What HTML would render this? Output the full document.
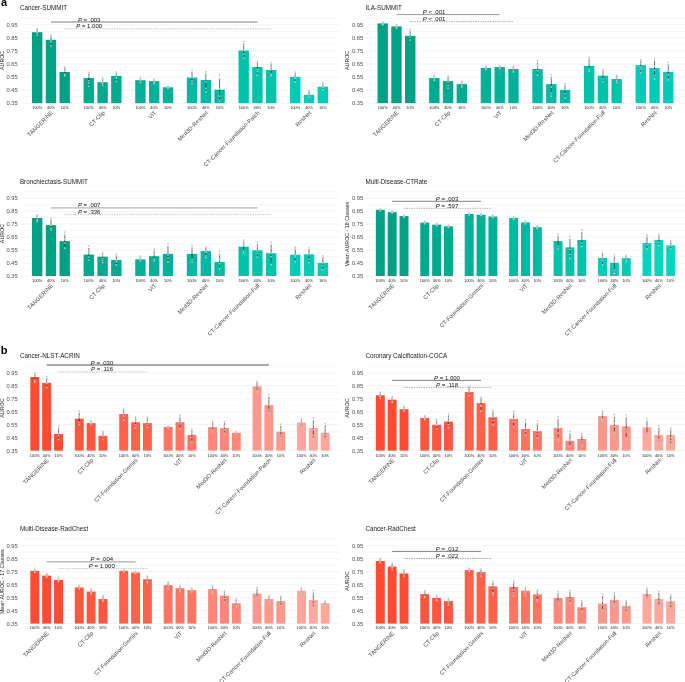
<!DOCTYPE html>
<html lang="en"><head><meta charset="utf-8"><title>Figure</title>
<style>
html,body{margin:0;padding:0;background:#fff;}
body{width:685px;height:682px;overflow:hidden;}
svg{display:block;will-change:transform;font-family:"Liberation Sans", Arial, Helvetica, sans-serif;}
.ti{font-size:6.3px;fill:#1a1a1a;}
.tk{font-size:5.75px;fill:#4d4d4d;text-anchor:end;}
.yl{font-size:5.33px;fill:#1a1a1a;text-anchor:middle;}
.pc{font-size:3.9px;fill:#1a1a1a;text-anchor:middle;}
.gl{font-size:5.85px;fill:#4d4d4d;text-anchor:end;}
.pv{font-size:6px;fill:#111;text-anchor:middle;}
.pn{font-size:11px;font-weight:bold;fill:#000;}
.gr line{stroke:#ebebeb;stroke-width:.55;}
.gm line{stroke:#f0f0f0;stroke-width:.45;}
.eb{stroke:#111;stroke-width:.6;}
.dt{fill:#c4c4c4;}
</style></head><body>
<svg width="685" height="682" viewBox="0 0 685 682">
<rect width="685" height="682" fill="#fff"/>
<text class="pn" x="1" y="6.2">a</text>
<text class="pn" x="0.8" y="353.7">b</text>

<g id="c0">
<text class="ti" x="19.9" y="10.2">Cancer-SUMMIT</text>
<g class="gm">
<line x1="20.0" x2="340.0" y1="96.54" y2="96.54"/>
<line x1="20.0" x2="340.0" y1="83.52" y2="83.52"/>
<line x1="20.0" x2="340.0" y1="70.51" y2="70.51"/>
<line x1="20.0" x2="340.0" y1="57.49" y2="57.49"/>
<line x1="20.0" x2="340.0" y1="44.47" y2="44.47"/>
<line x1="20.0" x2="340.0" y1="31.46" y2="31.46"/>
<line x1="20.0" x2="340.0" y1="18.44" y2="18.44"/>
</g><g class="gr">
<line x1="20.0" x2="340.0" y1="103.05" y2="103.05"/>
<line x1="20.0" x2="340.0" y1="90.03" y2="90.03"/>
<line x1="20.0" x2="340.0" y1="77.02" y2="77.02"/>
<line x1="20.0" x2="340.0" y1="64.00" y2="64.00"/>
<line x1="20.0" x2="340.0" y1="50.98" y2="50.98"/>
<line x1="20.0" x2="340.0" y1="37.97" y2="37.97"/>
<line x1="20.0" x2="340.0" y1="24.95" y2="24.95"/>
</g>
<text class="tk" x="17.6" y="105.1">0.35</text>
<text class="tk" x="17.6" y="92.1">0.45</text>
<text class="tk" x="17.6" y="79.1">0.55</text>
<text class="tk" x="17.6" y="66.0">0.65</text>
<text class="tk" x="17.6" y="53.0">0.75</text>
<text class="tk" x="17.6" y="40.0">0.85</text>
<text class="tk" x="17.6" y="27.0">0.95</text>
<text class="yl" transform="translate(3.9,60.4) rotate(-90)">AUROC</text>
<rect x="32.01" y="32.20" width="10.39" height="70.85" fill="#00a085"/>
<line class="eb" x1="37.20" x2="37.20" y1="29.47" y2="34.60"/>
<circle class="dt" cx="37.20" cy="28.70" r=".88"/>
<circle class="dt" cx="37.20" cy="29.83" r=".88"/>
<circle class="dt" cx="37.20" cy="32.17" r=".88"/>
<circle class="dt" cx="37.20" cy="32.96" r=".88"/>
<circle class="dt" cx="37.20" cy="35.20" r=".88"/>
<text class="pc" x="37.20" y="108.7">100%</text>
<rect x="45.77" y="39.80" width="10.39" height="63.25" fill="#00a085"/>
<line class="eb" x1="50.97" x2="50.97" y1="36.21" y2="44.60"/>
<circle class="dt" cx="50.97" cy="35.20" r=".88"/>
<circle class="dt" cx="50.97" cy="36.82" r=".88"/>
<circle class="dt" cx="50.97" cy="40.52" r=".88"/>
<circle class="dt" cx="50.97" cy="42.07" r=".88"/>
<circle class="dt" cx="50.97" cy="45.80" r=".88"/>
<text class="pc" x="50.97" y="108.7">40%</text>
<rect x="59.54" y="72.00" width="10.39" height="31.05" fill="#00a085"/>
<line class="eb" x1="64.73" x2="64.73" y1="68.10" y2="74.96"/>
<circle class="dt" cx="64.73" cy="67.00" r=".88"/>
<circle class="dt" cx="64.73" cy="68.39" r=".88"/>
<circle class="dt" cx="64.73" cy="71.21" r=".88"/>
<circle class="dt" cx="64.73" cy="74.15" r=".88"/>
<circle class="dt" cx="64.73" cy="75.70" r=".88"/>
<text class="pc" x="64.73" y="108.7">10%</text>
<text class="gl" transform="translate(53.6,113.1) rotate(-45)">TANGERINE</text>
<rect x="83.62" y="78.00" width="10.39" height="25.05" fill="#00aa8f"/>
<line class="eb" x1="88.82" x2="88.82" y1="73.71" y2="84.64"/>
<circle class="dt" cx="88.82" cy="72.50" r=".88"/>
<circle class="dt" cx="88.82" cy="76.34" r=".88"/>
<circle class="dt" cx="88.82" cy="80.76" r=".88"/>
<circle class="dt" cx="88.82" cy="83.08" r=".88"/>
<circle class="dt" cx="88.82" cy="86.30" r=".88"/>
<text class="pc" x="88.82" y="108.7">100%</text>
<rect x="97.38" y="82.20" width="10.39" height="20.85" fill="#00aa8f"/>
<line class="eb" x1="102.58" x2="102.58" y1="79.08" y2="84.60"/>
<circle class="dt" cx="102.58" cy="78.20" r=".88"/>
<circle class="dt" cx="102.58" cy="79.25" r=".88"/>
<circle class="dt" cx="102.58" cy="82.25" r=".88"/>
<circle class="dt" cx="102.58" cy="83.13" r=".88"/>
<circle class="dt" cx="102.58" cy="85.20" r=".88"/>
<text class="pc" x="102.58" y="108.7">40%</text>
<rect x="111.15" y="76.00" width="10.39" height="27.05" fill="#00aa8f"/>
<line class="eb" x1="116.34" x2="116.34" y1="72.72" y2="80.24"/>
<circle class="dt" cx="116.34" cy="71.80" r=".88"/>
<circle class="dt" cx="116.34" cy="73.77" r=".88"/>
<circle class="dt" cx="116.34" cy="77.21" r=".88"/>
<circle class="dt" cx="116.34" cy="78.26" r=".88"/>
<circle class="dt" cx="116.34" cy="81.30" r=".88"/>
<text class="pc" x="116.34" y="108.7">10%</text>
<text class="gl" transform="translate(105.2,113.1) rotate(-45)">CT-Clip</text>
<rect x="135.23" y="80.20" width="10.39" height="22.85" fill="#00b198"/>
<line class="eb" x1="140.43" x2="140.43" y1="78.02" y2="82.20"/>
<circle class="dt" cx="140.43" cy="77.40" r=".88"/>
<circle class="dt" cx="140.43" cy="78.58" r=".88"/>
<circle class="dt" cx="140.43" cy="80.11" r=".88"/>
<circle class="dt" cx="140.43" cy="80.87" r=".88"/>
<circle class="dt" cx="140.43" cy="82.70" r=".88"/>
<text class="pc" x="140.43" y="108.7">100%</text>
<rect x="149.00" y="81.10" width="10.39" height="21.95" fill="#00b198"/>
<line class="eb" x1="154.19" x2="154.19" y1="79.54" y2="83.10"/>
<circle class="dt" cx="154.19" cy="79.10" r=".88"/>
<circle class="dt" cx="154.19" cy="80.40" r=".88"/>
<circle class="dt" cx="154.19" cy="81.28" r=".88"/>
<circle class="dt" cx="154.19" cy="82.29" r=".88"/>
<circle class="dt" cx="154.19" cy="83.60" r=".88"/>
<text class="pc" x="154.19" y="108.7">40%</text>
<rect x="162.76" y="87.30" width="10.39" height="15.75" fill="#00b198"/>
<line class="eb" x1="167.96" x2="167.96" y1="86.52" y2="87.86"/>
<circle class="dt" cx="167.96" cy="86.30" r=".88"/>
<circle class="dt" cx="167.96" cy="86.65" r=".88"/>
<circle class="dt" cx="167.96" cy="87.26" r=".88"/>
<circle class="dt" cx="167.96" cy="87.65" r=".88"/>
<circle class="dt" cx="167.96" cy="88.00" r=".88"/>
<text class="pc" x="167.96" y="108.7">10%</text>
<text class="gl" transform="translate(156.8,113.1) rotate(-45)">ViT</text>
<rect x="186.85" y="77.60" width="10.39" height="25.45" fill="#00b9a2"/>
<line class="eb" x1="192.04" x2="192.04" y1="71.75" y2="82.40"/>
<circle class="dt" cx="192.04" cy="70.10" r=".88"/>
<circle class="dt" cx="192.04" cy="73.55" r=".88"/>
<circle class="dt" cx="192.04" cy="77.96" r=".88"/>
<circle class="dt" cx="192.04" cy="80.91" r=".88"/>
<circle class="dt" cx="192.04" cy="83.60" r=".88"/>
<text class="pc" x="192.04" y="108.7">100%</text>
<rect x="200.61" y="80.00" width="10.39" height="23.05" fill="#00b9a2"/>
<line class="eb" x1="205.81" x2="205.81" y1="73.53" y2="89.84"/>
<circle class="dt" cx="205.81" cy="71.70" r=".88"/>
<circle class="dt" cx="205.81" cy="75.12" r=".88"/>
<circle class="dt" cx="205.81" cy="81.63" r=".88"/>
<circle class="dt" cx="205.81" cy="88.32" r=".88"/>
<circle class="dt" cx="205.81" cy="92.30" r=".88"/>
<text class="pc" x="205.81" y="108.7">40%</text>
<rect x="214.37" y="89.70" width="10.39" height="13.35" fill="#00b9a2"/>
<line class="eb" x1="219.57" x2="219.57" y1="78.00" y2="98.82"/>
<circle class="dt" cx="219.57" cy="74.70" r=".88"/>
<circle class="dt" cx="219.57" cy="78.62" r=".88"/>
<circle class="dt" cx="219.57" cy="88.88" r=".88"/>
<circle class="dt" cx="219.57" cy="96.04" r=".88"/>
<circle class="dt" cx="219.57" cy="101.10" r=".88"/>
<text class="pc" x="219.57" y="108.7">10%</text>
<text class="gl" transform="translate(208.4,113.1) rotate(-45)">Med3D-ResNet</text>
<rect x="238.46" y="50.50" width="10.39" height="52.55" fill="#00c3aa"/>
<line class="eb" x1="243.66" x2="243.66" y1="43.32" y2="56.58"/>
<circle class="dt" cx="243.66" cy="41.30" r=".88"/>
<circle class="dt" cx="243.66" cy="44.81" r=".88"/>
<circle class="dt" cx="243.66" cy="50.42" r=".88"/>
<circle class="dt" cx="243.66" cy="54.25" r=".88"/>
<circle class="dt" cx="243.66" cy="58.10" r=".88"/>
<text class="pc" x="243.66" y="108.7">100%</text>
<rect x="252.22" y="67.00" width="10.39" height="36.05" fill="#00c3aa"/>
<line class="eb" x1="257.42" x2="257.42" y1="62.48" y2="73.64"/>
<circle class="dt" cx="257.42" cy="61.20" r=".88"/>
<circle class="dt" cx="257.42" cy="65.78" r=".88"/>
<circle class="dt" cx="257.42" cy="69.63" r=".88"/>
<circle class="dt" cx="257.42" cy="71.69" r=".88"/>
<circle class="dt" cx="257.42" cy="75.30" r=".88"/>
<text class="pc" x="257.42" y="108.7">40%</text>
<rect x="265.99" y="70.00" width="10.39" height="33.05" fill="#00c3aa"/>
<line class="eb" x1="271.18" x2="271.18" y1="64.38" y2="74.80"/>
<circle class="dt" cx="271.18" cy="62.80" r=".88"/>
<circle class="dt" cx="271.18" cy="66.69" r=".88"/>
<circle class="dt" cx="271.18" cy="69.83" r=".88"/>
<circle class="dt" cx="271.18" cy="74.13" r=".88"/>
<circle class="dt" cx="271.18" cy="76.00" r=".88"/>
<text class="pc" x="271.18" y="108.7">10%</text>
<text class="gl" transform="translate(260.0,113.1) rotate(-45)">CT-Cancer-Foundation-Patch</text>
<rect x="290.07" y="76.90" width="10.39" height="26.15" fill="#00cbb7"/>
<line class="eb" x1="295.27" x2="295.27" y1="73.16" y2="80.90"/>
<circle class="dt" cx="295.27" cy="72.10" r=".88"/>
<circle class="dt" cx="295.27" cy="74.30" r=".88"/>
<circle class="dt" cx="295.27" cy="77.36" r=".88"/>
<circle class="dt" cx="295.27" cy="78.42" r=".88"/>
<circle class="dt" cx="295.27" cy="81.90" r=".88"/>
<text class="pc" x="295.27" y="108.7">100%</text>
<rect x="303.84" y="94.80" width="10.39" height="8.25" fill="#00cbb7"/>
<line class="eb" x1="309.03" x2="309.03" y1="91.52" y2="96.64"/>
<circle class="dt" cx="309.03" cy="90.60" r=".88"/>
<circle class="dt" cx="309.03" cy="91.68" r=".88"/>
<circle class="dt" cx="309.03" cy="93.22" r=".88"/>
<circle class="dt" cx="309.03" cy="95.86" r=".88"/>
<circle class="dt" cx="309.03" cy="97.10" r=".88"/>
<text class="pc" x="309.03" y="108.7">40%</text>
<rect x="317.60" y="86.70" width="10.39" height="16.35" fill="#00cbb7"/>
<line class="eb" x1="322.80" x2="322.80" y1="83.58" y2="89.10"/>
<circle class="dt" cx="322.80" cy="82.70" r=".88"/>
<circle class="dt" cx="322.80" cy="84.28" r=".88"/>
<circle class="dt" cx="322.80" cy="86.77" r=".88"/>
<circle class="dt" cx="322.80" cy="87.30" r=".88"/>
<circle class="dt" cx="322.80" cy="89.70" r=".88"/>
<text class="pc" x="322.80" y="108.7">10%</text>
<text class="gl" transform="translate(311.6,113.1) rotate(-45)">ResNet</text>
<line x1="51.0" x2="257.4" y1="22.0" y2="22.0" stroke="#ababab" stroke-width="1.3"/>
<text class="pv" x="89.2" y="21.65"><tspan font-style="italic">P</tspan> = .003</text>
<line x1="64.7" x2="271.2" y1="28.8" y2="28.8" stroke="#858585" stroke-width=".8" stroke-dasharray=".6 1.1"/>
<text class="pv" x="89.2" y="28.35"><tspan font-style="italic">P</tspan> = 1.000</text>
</g>
<g id="c1">
<text class="ti" x="365.4" y="10.2">ILA-SUMMIT</text>
<g class="gm">
<line x1="365.5" x2="685.0" y1="96.54" y2="96.54"/>
<line x1="365.5" x2="685.0" y1="83.52" y2="83.52"/>
<line x1="365.5" x2="685.0" y1="70.51" y2="70.51"/>
<line x1="365.5" x2="685.0" y1="57.49" y2="57.49"/>
<line x1="365.5" x2="685.0" y1="44.47" y2="44.47"/>
<line x1="365.5" x2="685.0" y1="31.46" y2="31.46"/>
<line x1="365.5" x2="685.0" y1="18.44" y2="18.44"/>
</g><g class="gr">
<line x1="365.5" x2="685.0" y1="103.05" y2="103.05"/>
<line x1="365.5" x2="685.0" y1="90.03" y2="90.03"/>
<line x1="365.5" x2="685.0" y1="77.02" y2="77.02"/>
<line x1="365.5" x2="685.0" y1="64.00" y2="64.00"/>
<line x1="365.5" x2="685.0" y1="50.98" y2="50.98"/>
<line x1="365.5" x2="685.0" y1="37.97" y2="37.97"/>
<line x1="365.5" x2="685.0" y1="24.95" y2="24.95"/>
</g>
<text class="tk" x="363.1" y="105.1">0.35</text>
<text class="tk" x="363.1" y="92.1">0.45</text>
<text class="tk" x="363.1" y="79.1">0.55</text>
<text class="tk" x="363.1" y="66.0">0.65</text>
<text class="tk" x="363.1" y="53.0">0.75</text>
<text class="tk" x="363.1" y="40.0">0.85</text>
<text class="tk" x="363.1" y="27.0">0.95</text>
<text class="yl" transform="translate(349.1,60.4) rotate(-90)">AUROC</text>
<rect x="377.51" y="23.40" width="10.39" height="79.65" fill="#00a085"/>
<line class="eb" x1="382.70" x2="382.70" y1="22.23" y2="24.60"/>
<circle class="dt" cx="382.70" cy="21.90" r=".88"/>
<circle class="dt" cx="382.70" cy="22.90" r=".88"/>
<circle class="dt" cx="382.70" cy="23.61" r=".88"/>
<circle class="dt" cx="382.70" cy="24.39" r=".88"/>
<circle class="dt" cx="382.70" cy="24.90" r=".88"/>
<text class="pc" x="382.70" y="108.7">100%</text>
<rect x="391.27" y="26.40" width="10.39" height="76.65" fill="#00a085"/>
<line class="eb" x1="396.47" x2="396.47" y1="25.00" y2="27.60"/>
<circle class="dt" cx="396.47" cy="24.60" r=".88"/>
<circle class="dt" cx="396.47" cy="25.32" r=".88"/>
<circle class="dt" cx="396.47" cy="26.53" r=".88"/>
<circle class="dt" cx="396.47" cy="27.41" r=".88"/>
<circle class="dt" cx="396.47" cy="27.90" r=".88"/>
<text class="pc" x="396.47" y="108.7">40%</text>
<rect x="405.04" y="35.90" width="10.39" height="67.15" fill="#00a085"/>
<line class="eb" x1="410.23" x2="410.23" y1="30.83" y2="39.10"/>
<circle class="dt" cx="410.23" cy="29.40" r=".88"/>
<circle class="dt" cx="410.23" cy="31.41" r=".88"/>
<circle class="dt" cx="410.23" cy="34.03" r=".88"/>
<circle class="dt" cx="410.23" cy="37.24" r=".88"/>
<circle class="dt" cx="410.23" cy="39.90" r=".88"/>
<text class="pc" x="410.23" y="108.7">10%</text>
<text class="gl" transform="translate(399.1,113.1) rotate(-45)">TANGERINE</text>
<rect x="429.12" y="78.00" width="10.39" height="25.05" fill="#00aa8f"/>
<line class="eb" x1="434.32" x2="434.32" y1="76.05" y2="80.00"/>
<circle class="dt" cx="434.32" cy="75.50" r=".88"/>
<circle class="dt" cx="434.32" cy="76.20" r=".88"/>
<circle class="dt" cx="434.32" cy="77.91" r=".88"/>
<circle class="dt" cx="434.32" cy="79.11" r=".88"/>
<circle class="dt" cx="434.32" cy="80.50" r=".88"/>
<text class="pc" x="434.32" y="108.7">100%</text>
<rect x="442.88" y="81.10" width="10.39" height="21.95" fill="#00aa8f"/>
<line class="eb" x1="448.08" x2="448.08" y1="77.20" y2="86.70"/>
<circle class="dt" cx="448.08" cy="76.10" r=".88"/>
<circle class="dt" cx="448.08" cy="79.60" r=".88"/>
<circle class="dt" cx="448.08" cy="82.14" r=".88"/>
<circle class="dt" cx="448.08" cy="85.41" r=".88"/>
<circle class="dt" cx="448.08" cy="88.10" r=".88"/>
<text class="pc" x="448.08" y="108.7">40%</text>
<rect x="456.65" y="84.10" width="10.39" height="18.95" fill="#00aa8f"/>
<line class="eb" x1="461.84" x2="461.84" y1="81.76" y2="86.50"/>
<circle class="dt" cx="461.84" cy="81.10" r=".88"/>
<circle class="dt" cx="461.84" cy="83.13" r=".88"/>
<circle class="dt" cx="461.84" cy="84.47" r=".88"/>
<circle class="dt" cx="461.84" cy="86.09" r=".88"/>
<circle class="dt" cx="461.84" cy="87.10" r=".88"/>
<text class="pc" x="461.84" y="108.7">10%</text>
<text class="gl" transform="translate(450.7,113.1) rotate(-45)">CT-Clip</text>
<rect x="480.73" y="67.90" width="10.39" height="35.15" fill="#00b198"/>
<line class="eb" x1="485.93" x2="485.93" y1="66.73" y2="69.10"/>
<circle class="dt" cx="485.93" cy="66.40" r=".88"/>
<circle class="dt" cx="485.93" cy="67.08" r=".88"/>
<circle class="dt" cx="485.93" cy="67.64" r=".88"/>
<circle class="dt" cx="485.93" cy="68.74" r=".88"/>
<circle class="dt" cx="485.93" cy="69.40" r=".88"/>
<text class="pc" x="485.93" y="108.7">100%</text>
<rect x="494.50" y="67.00" width="10.39" height="36.05" fill="#00b198"/>
<line class="eb" x1="499.69" x2="499.69" y1="65.83" y2="68.20"/>
<circle class="dt" cx="499.69" cy="65.50" r=".88"/>
<circle class="dt" cx="499.69" cy="66.06" r=".88"/>
<circle class="dt" cx="499.69" cy="66.78" r=".88"/>
<circle class="dt" cx="499.69" cy="67.64" r=".88"/>
<circle class="dt" cx="499.69" cy="68.50" r=".88"/>
<text class="pc" x="499.69" y="108.7">40%</text>
<rect x="508.26" y="69.00" width="10.39" height="34.05" fill="#00b198"/>
<line class="eb" x1="513.46" x2="513.46" y1="66.66" y2="71.40"/>
<circle class="dt" cx="513.46" cy="66.00" r=".88"/>
<circle class="dt" cx="513.46" cy="67.04" r=".88"/>
<circle class="dt" cx="513.46" cy="68.47" r=".88"/>
<circle class="dt" cx="513.46" cy="70.32" r=".88"/>
<circle class="dt" cx="513.46" cy="72.00" r=".88"/>
<text class="pc" x="513.46" y="108.7">10%</text>
<text class="gl" transform="translate(502.3,113.1) rotate(-45)">ViT</text>
<rect x="532.35" y="69.00" width="10.39" height="34.05" fill="#00b9a2"/>
<line class="eb" x1="537.54" x2="537.54" y1="62.76" y2="73.80"/>
<circle class="dt" cx="537.54" cy="61.00" r=".88"/>
<circle class="dt" cx="537.54" cy="64.85" r=".88"/>
<circle class="dt" cx="537.54" cy="66.92" r=".88"/>
<circle class="dt" cx="537.54" cy="70.74" r=".88"/>
<circle class="dt" cx="537.54" cy="75.00" r=".88"/>
<text class="pc" x="537.54" y="108.7">100%</text>
<rect x="546.11" y="84.10" width="10.39" height="18.95" fill="#00b9a2"/>
<line class="eb" x1="551.31" x2="551.31" y1="76.69" y2="93.70"/>
<circle class="dt" cx="551.31" cy="74.60" r=".88"/>
<circle class="dt" cx="551.31" cy="78.19" r=".88"/>
<circle class="dt" cx="551.31" cy="87.00" r=".88"/>
<circle class="dt" cx="551.31" cy="93.06" r=".88"/>
<circle class="dt" cx="551.31" cy="96.10" r=".88"/>
<text class="pc" x="551.31" y="108.7">40%</text>
<rect x="559.87" y="89.90" width="10.39" height="13.15" fill="#00b9a2"/>
<line class="eb" x1="565.07" x2="565.07" y1="85.22" y2="96.30"/>
<circle class="dt" cx="565.07" cy="83.90" r=".88"/>
<circle class="dt" cx="565.07" cy="86.12" r=".88"/>
<circle class="dt" cx="565.07" cy="89.67" r=".88"/>
<circle class="dt" cx="565.07" cy="93.92" r=".88"/>
<circle class="dt" cx="565.07" cy="97.90" r=".88"/>
<text class="pc" x="565.07" y="108.7">10%</text>
<text class="gl" transform="translate(553.9,113.1) rotate(-45)">Med3D-ResNet</text>
<rect x="583.96" y="66.00" width="10.39" height="37.05" fill="#00c3aa"/>
<line class="eb" x1="589.16" x2="589.16" y1="59.37" y2="70.00"/>
<circle class="dt" cx="589.16" cy="57.50" r=".88"/>
<circle class="dt" cx="589.16" cy="59.87" r=".88"/>
<circle class="dt" cx="589.16" cy="62.83" r=".88"/>
<circle class="dt" cx="589.16" cy="68.96" r=".88"/>
<circle class="dt" cx="589.16" cy="71.00" r=".88"/>
<text class="pc" x="589.16" y="108.7">100%</text>
<rect x="597.72" y="75.70" width="10.39" height="27.35" fill="#00c3aa"/>
<line class="eb" x1="602.92" x2="602.92" y1="71.02" y2="80.50"/>
<circle class="dt" cx="602.92" cy="69.70" r=".88"/>
<circle class="dt" cx="602.92" cy="72.81" r=".88"/>
<circle class="dt" cx="602.92" cy="74.45" r=".88"/>
<circle class="dt" cx="602.92" cy="78.77" r=".88"/>
<circle class="dt" cx="602.92" cy="81.70" r=".88"/>
<text class="pc" x="602.92" y="108.7">40%</text>
<rect x="611.49" y="79.00" width="10.39" height="24.05" fill="#00c3aa"/>
<line class="eb" x1="616.68" x2="616.68" y1="76.27" y2="81.80"/>
<circle class="dt" cx="616.68" cy="75.50" r=".88"/>
<circle class="dt" cx="616.68" cy="77.55" r=".88"/>
<circle class="dt" cx="616.68" cy="78.63" r=".88"/>
<circle class="dt" cx="616.68" cy="80.54" r=".88"/>
<circle class="dt" cx="616.68" cy="82.50" r=".88"/>
<text class="pc" x="616.68" y="108.7">10%</text>
<text class="gl" transform="translate(605.5,113.1) rotate(-45)">CT-Cancer-Foundation-Full</text>
<rect x="635.57" y="65.10" width="10.39" height="37.95" fill="#00cbb7"/>
<line class="eb" x1="640.77" x2="640.77" y1="60.81" y2="71.50"/>
<circle class="dt" cx="640.77" cy="59.60" r=".88"/>
<circle class="dt" cx="640.77" cy="63.07" r=".88"/>
<circle class="dt" cx="640.77" cy="67.18" r=".88"/>
<circle class="dt" cx="640.77" cy="69.22" r=".88"/>
<circle class="dt" cx="640.77" cy="73.10" r=".88"/>
<text class="pc" x="640.77" y="108.7">100%</text>
<rect x="649.34" y="68.10" width="10.39" height="34.95" fill="#00cbb7"/>
<line class="eb" x1="654.53" x2="654.53" y1="60.69" y2="76.90"/>
<circle class="dt" cx="654.53" cy="58.60" r=".88"/>
<circle class="dt" cx="654.53" cy="65.91" r=".88"/>
<circle class="dt" cx="654.53" cy="70.44" r=".88"/>
<circle class="dt" cx="654.53" cy="75.36" r=".88"/>
<circle class="dt" cx="654.53" cy="79.10" r=".88"/>
<text class="pc" x="654.53" y="108.7">40%</text>
<rect x="663.10" y="71.80" width="10.39" height="31.25" fill="#00cbb7"/>
<line class="eb" x1="668.30" x2="668.30" y1="64.39" y2="78.20"/>
<circle class="dt" cx="668.30" cy="62.30" r=".88"/>
<circle class="dt" cx="668.30" cy="65.62" r=".88"/>
<circle class="dt" cx="668.30" cy="71.12" r=".88"/>
<circle class="dt" cx="668.30" cy="74.87" r=".88"/>
<circle class="dt" cx="668.30" cy="79.80" r=".88"/>
<text class="pc" x="668.30" y="108.7">10%</text>
<text class="gl" transform="translate(657.1,113.1) rotate(-45)">ResNet</text>
<line x1="396.5" x2="499.7" y1="14.6" y2="14.6" stroke="#8f8f8f" stroke-width="0.9"/>
<text class="pv" x="434.1" y="14.25"><tspan font-style="italic">P</tspan> &lt; .001</text>
<line x1="410.2" x2="513.5" y1="21.6" y2="21.6" stroke="#555" stroke-width=".8" stroke-dasharray=".6 1.1"/>
<text class="pv" x="434.1" y="21.15"><tspan font-style="italic">P</tspan> &lt; .001</text>
</g>
<g id="c2">
<text class="ti" x="19.9" y="183.7">Bronchiectasis-SUMMIT</text>
<g class="gm">
<line x1="20.0" x2="340.0" y1="269.52" y2="269.52"/>
<line x1="20.0" x2="340.0" y1="256.55" y2="256.55"/>
<line x1="20.0" x2="340.0" y1="243.58" y2="243.58"/>
<line x1="20.0" x2="340.0" y1="230.62" y2="230.62"/>
<line x1="20.0" x2="340.0" y1="217.65" y2="217.65"/>
<line x1="20.0" x2="340.0" y1="204.68" y2="204.68"/>
<line x1="20.0" x2="340.0" y1="191.72" y2="191.72"/>
</g><g class="gr">
<line x1="20.0" x2="340.0" y1="276.00" y2="276.00"/>
<line x1="20.0" x2="340.0" y1="263.03" y2="263.03"/>
<line x1="20.0" x2="340.0" y1="250.07" y2="250.07"/>
<line x1="20.0" x2="340.0" y1="237.10" y2="237.10"/>
<line x1="20.0" x2="340.0" y1="224.13" y2="224.13"/>
<line x1="20.0" x2="340.0" y1="211.17" y2="211.17"/>
<line x1="20.0" x2="340.0" y1="198.20" y2="198.20"/>
</g>
<text class="tk" x="17.6" y="278.1">0.35</text>
<text class="tk" x="17.6" y="265.1">0.45</text>
<text class="tk" x="17.6" y="252.1">0.55</text>
<text class="tk" x="17.6" y="239.2">0.65</text>
<text class="tk" x="17.6" y="226.2">0.75</text>
<text class="tk" x="17.6" y="213.2">0.85</text>
<text class="tk" x="17.6" y="200.2">0.95</text>
<text class="yl" transform="translate(3.9,233.5) rotate(-90)">AUROC</text>
<rect x="32.01" y="218.00" width="10.39" height="58.00" fill="#00a085"/>
<line class="eb" x1="37.20" x2="37.20" y1="215.66" y2="220.80"/>
<circle class="dt" cx="37.20" cy="215.00" r=".88"/>
<circle class="dt" cx="37.20" cy="216.31" r=".88"/>
<circle class="dt" cx="37.20" cy="217.91" r=".88"/>
<circle class="dt" cx="37.20" cy="220.15" r=".88"/>
<circle class="dt" cx="37.20" cy="221.50" r=".88"/>
<text class="pc" x="37.20" y="281.8">100%</text>
<rect x="45.77" y="225.10" width="10.39" height="50.90" fill="#00a085"/>
<line class="eb" x1="50.97" x2="50.97" y1="219.64" y2="229.10"/>
<circle class="dt" cx="50.97" cy="218.10" r=".88"/>
<circle class="dt" cx="50.97" cy="222.25" r=".88"/>
<circle class="dt" cx="50.97" cy="225.39" r=".88"/>
<circle class="dt" cx="50.97" cy="228.30" r=".88"/>
<circle class="dt" cx="50.97" cy="230.10" r=".88"/>
<text class="pc" x="50.97" y="281.8">40%</text>
<rect x="59.54" y="241.10" width="10.39" height="34.90" fill="#00a085"/>
<line class="eb" x1="64.73" x2="64.73" y1="234.08" y2="246.70"/>
<circle class="dt" cx="64.73" cy="232.10" r=".88"/>
<circle class="dt" cx="64.73" cy="235.14" r=".88"/>
<circle class="dt" cx="64.73" cy="239.03" r=".88"/>
<circle class="dt" cx="64.73" cy="243.06" r=".88"/>
<circle class="dt" cx="64.73" cy="248.10" r=".88"/>
<text class="pc" x="64.73" y="281.8">10%</text>
<text class="gl" transform="translate(53.6,286.1) rotate(-45)">TANGERINE</text>
<rect x="83.62" y="254.60" width="10.39" height="21.40" fill="#00aa8f"/>
<line class="eb" x1="88.82" x2="88.82" y1="247.97" y2="259.00"/>
<circle class="dt" cx="88.82" cy="246.10" r=".88"/>
<circle class="dt" cx="88.82" cy="250.65" r=".88"/>
<circle class="dt" cx="88.82" cy="253.04" r=".88"/>
<circle class="dt" cx="88.82" cy="257.07" r=".88"/>
<circle class="dt" cx="88.82" cy="260.10" r=".88"/>
<text class="pc" x="88.82" y="281.8">100%</text>
<rect x="97.38" y="256.70" width="10.39" height="19.30" fill="#00aa8f"/>
<line class="eb" x1="102.58" x2="102.58" y1="253.58" y2="261.50"/>
<circle class="dt" cx="102.58" cy="252.70" r=".88"/>
<circle class="dt" cx="102.58" cy="255.55" r=".88"/>
<circle class="dt" cx="102.58" cy="258.60" r=".88"/>
<circle class="dt" cx="102.58" cy="260.82" r=".88"/>
<circle class="dt" cx="102.58" cy="262.70" r=".88"/>
<text class="pc" x="102.58" y="281.8">40%</text>
<rect x="111.15" y="259.90" width="10.39" height="16.10" fill="#00aa8f"/>
<line class="eb" x1="116.34" x2="116.34" y1="255.22" y2="263.90"/>
<circle class="dt" cx="116.34" cy="253.90" r=".88"/>
<circle class="dt" cx="116.34" cy="255.87" r=".88"/>
<circle class="dt" cx="116.34" cy="260.10" r=".88"/>
<circle class="dt" cx="116.34" cy="261.74" r=".88"/>
<circle class="dt" cx="116.34" cy="264.90" r=".88"/>
<text class="pc" x="116.34" y="281.8">10%</text>
<text class="gl" transform="translate(105.2,286.1) rotate(-45)">CT-Clip</text>
<rect x="135.23" y="259.40" width="10.39" height="16.60" fill="#00b198"/>
<line class="eb" x1="140.43" x2="140.43" y1="256.67" y2="260.60"/>
<circle class="dt" cx="140.43" cy="255.90" r=".88"/>
<circle class="dt" cx="140.43" cy="257.04" r=".88"/>
<circle class="dt" cx="140.43" cy="258.29" r=".88"/>
<circle class="dt" cx="140.43" cy="260.14" r=".88"/>
<circle class="dt" cx="140.43" cy="260.90" r=".88"/>
<text class="pc" x="140.43" y="281.8">100%</text>
<rect x="149.00" y="256.20" width="10.39" height="19.80" fill="#00b198"/>
<line class="eb" x1="154.19" x2="154.19" y1="250.74" y2="259.80"/>
<circle class="dt" cx="154.19" cy="249.20" r=".88"/>
<circle class="dt" cx="154.19" cy="251.13" r=".88"/>
<circle class="dt" cx="154.19" cy="254.07" r=".88"/>
<circle class="dt" cx="154.19" cy="258.85" r=".88"/>
<circle class="dt" cx="154.19" cy="260.70" r=".88"/>
<text class="pc" x="154.19" y="281.8">40%</text>
<rect x="162.76" y="253.90" width="10.39" height="22.10" fill="#00b198"/>
<line class="eb" x1="167.96" x2="167.96" y1="246.10" y2="260.30"/>
<circle class="dt" cx="167.96" cy="243.90" r=".88"/>
<circle class="dt" cx="167.96" cy="249.69" r=".88"/>
<circle class="dt" cx="167.96" cy="254.80" r=".88"/>
<circle class="dt" cx="167.96" cy="258.02" r=".88"/>
<circle class="dt" cx="167.96" cy="261.90" r=".88"/>
<text class="pc" x="167.96" y="281.8">10%</text>
<text class="gl" transform="translate(156.8,286.1) rotate(-45)">ViT</text>
<rect x="186.85" y="253.90" width="10.39" height="22.10" fill="#00b9a2"/>
<line class="eb" x1="192.04" x2="192.04" y1="247.66" y2="260.30"/>
<circle class="dt" cx="192.04" cy="245.90" r=".88"/>
<circle class="dt" cx="192.04" cy="248.60" r=".88"/>
<circle class="dt" cx="192.04" cy="252.19" r=".88"/>
<circle class="dt" cx="192.04" cy="259.56" r=".88"/>
<circle class="dt" cx="192.04" cy="261.90" r=".88"/>
<text class="pc" x="192.04" y="281.8">100%</text>
<rect x="200.61" y="251.10" width="10.39" height="24.90" fill="#00b9a2"/>
<line class="eb" x1="205.81" x2="205.81" y1="247.98" y2="256.30"/>
<circle class="dt" cx="205.81" cy="247.10" r=".88"/>
<circle class="dt" cx="205.81" cy="250.73" r=".88"/>
<circle class="dt" cx="205.81" cy="252.20" r=".88"/>
<circle class="dt" cx="205.81" cy="255.83" r=".88"/>
<circle class="dt" cx="205.81" cy="257.60" r=".88"/>
<text class="pc" x="205.81" y="281.8">40%</text>
<rect x="214.37" y="262.00" width="10.39" height="14.00" fill="#00b9a2"/>
<line class="eb" x1="219.57" x2="219.57" y1="253.81" y2="267.60"/>
<circle class="dt" cx="219.57" cy="251.50" r=".88"/>
<circle class="dt" cx="219.57" cy="254.92" r=".88"/>
<circle class="dt" cx="219.57" cy="259.45" r=".88"/>
<circle class="dt" cx="219.57" cy="263.63" r=".88"/>
<circle class="dt" cx="219.57" cy="269.00" r=".88"/>
<text class="pc" x="219.57" y="281.8">10%</text>
<text class="gl" transform="translate(208.4,286.1) rotate(-45)">Med3D-ResNet</text>
<rect x="238.46" y="246.70" width="10.39" height="29.30" fill="#00c3aa"/>
<line class="eb" x1="243.66" x2="243.66" y1="241.63" y2="251.90"/>
<circle class="dt" cx="243.66" cy="240.20" r=".88"/>
<circle class="dt" cx="243.66" cy="243.22" r=".88"/>
<circle class="dt" cx="243.66" cy="245.64" r=".88"/>
<circle class="dt" cx="243.66" cy="251.12" r=".88"/>
<circle class="dt" cx="243.66" cy="253.20" r=".88"/>
<text class="pc" x="243.66" y="281.8">100%</text>
<rect x="252.22" y="250.30" width="10.39" height="25.70" fill="#00c3aa"/>
<line class="eb" x1="257.42" x2="257.42" y1="244.06" y2="255.90"/>
<circle class="dt" cx="257.42" cy="242.30" r=".88"/>
<circle class="dt" cx="257.42" cy="246.33" r=".88"/>
<circle class="dt" cx="257.42" cy="251.13" r=".88"/>
<circle class="dt" cx="257.42" cy="253.29" r=".88"/>
<circle class="dt" cx="257.42" cy="257.30" r=".88"/>
<text class="pc" x="257.42" y="281.8">40%</text>
<rect x="265.99" y="253.20" width="10.39" height="22.80" fill="#00c3aa"/>
<line class="eb" x1="271.18" x2="271.18" y1="244.62" y2="262.40"/>
<circle class="dt" cx="271.18" cy="242.20" r=".88"/>
<circle class="dt" cx="271.18" cy="247.98" r=".88"/>
<circle class="dt" cx="271.18" cy="253.57" r=".88"/>
<circle class="dt" cx="271.18" cy="256.69" r=".88"/>
<circle class="dt" cx="271.18" cy="264.70" r=".88"/>
<text class="pc" x="271.18" y="281.8">10%</text>
<text class="gl" transform="translate(260.0,286.1) rotate(-45)">CT-Cancer-Foundation-Full</text>
<rect x="290.07" y="254.70" width="10.39" height="21.30" fill="#00cbb7"/>
<line class="eb" x1="295.27" x2="295.27" y1="248.85" y2="260.30"/>
<circle class="dt" cx="295.27" cy="247.20" r=".88"/>
<circle class="dt" cx="295.27" cy="249.24" r=".88"/>
<circle class="dt" cx="295.27" cy="255.40" r=".88"/>
<circle class="dt" cx="295.27" cy="257.03" r=".88"/>
<circle class="dt" cx="295.27" cy="261.70" r=".88"/>
<text class="pc" x="295.27" y="281.8">100%</text>
<rect x="303.84" y="254.30" width="10.39" height="21.70" fill="#00cbb7"/>
<line class="eb" x1="309.03" x2="309.03" y1="249.23" y2="261.10"/>
<circle class="dt" cx="309.03" cy="247.80" r=".88"/>
<circle class="dt" cx="309.03" cy="251.74" r=".88"/>
<circle class="dt" cx="309.03" cy="254.73" r=".88"/>
<circle class="dt" cx="309.03" cy="259.11" r=".88"/>
<circle class="dt" cx="309.03" cy="262.80" r=".88"/>
<text class="pc" x="309.03" y="281.8">40%</text>
<rect x="317.60" y="262.90" width="10.39" height="13.10" fill="#00cbb7"/>
<line class="eb" x1="322.80" x2="322.80" y1="257.44" y2="268.50"/>
<circle class="dt" cx="322.80" cy="255.90" r=".88"/>
<circle class="dt" cx="322.80" cy="258.19" r=".88"/>
<circle class="dt" cx="322.80" cy="263.09" r=".88"/>
<circle class="dt" cx="322.80" cy="265.63" r=".88"/>
<circle class="dt" cx="322.80" cy="269.90" r=".88"/>
<text class="pc" x="322.80" y="281.8">10%</text>
<text class="gl" transform="translate(311.6,286.1) rotate(-45)">ResNet</text>
<line x1="51.0" x2="257.4" y1="207.8" y2="207.8" stroke="#b4b4b4" stroke-width="1.3"/>
<text class="pv" x="89.2" y="207.45"><tspan font-style="italic">P</tspan> = .007</text>
<line x1="64.7" x2="271.2" y1="214.6" y2="214.6" stroke="#858585" stroke-width=".8" stroke-dasharray=".6 1.1"/>
<text class="pv" x="89.2" y="214.15"><tspan font-style="italic">P</tspan> = .336</text>
</g>
<g id="c3">
<text class="ti" x="365.4" y="183.7">Multi-Disease-CTRate</text>
<g class="gm">
<line x1="365.5" x2="685.0" y1="269.52" y2="269.52"/>
<line x1="365.5" x2="685.0" y1="256.55" y2="256.55"/>
<line x1="365.5" x2="685.0" y1="243.58" y2="243.58"/>
<line x1="365.5" x2="685.0" y1="230.62" y2="230.62"/>
<line x1="365.5" x2="685.0" y1="217.65" y2="217.65"/>
<line x1="365.5" x2="685.0" y1="204.68" y2="204.68"/>
<line x1="365.5" x2="685.0" y1="191.72" y2="191.72"/>
</g><g class="gr">
<line x1="365.5" x2="685.0" y1="276.00" y2="276.00"/>
<line x1="365.5" x2="685.0" y1="263.03" y2="263.03"/>
<line x1="365.5" x2="685.0" y1="250.07" y2="250.07"/>
<line x1="365.5" x2="685.0" y1="237.10" y2="237.10"/>
<line x1="365.5" x2="685.0" y1="224.13" y2="224.13"/>
<line x1="365.5" x2="685.0" y1="211.17" y2="211.17"/>
<line x1="365.5" x2="685.0" y1="198.20" y2="198.20"/>
</g>
<text class="tk" x="363.1" y="278.1">0.35</text>
<text class="tk" x="363.1" y="265.1">0.45</text>
<text class="tk" x="363.1" y="252.1">0.55</text>
<text class="tk" x="363.1" y="239.2">0.65</text>
<text class="tk" x="363.1" y="226.2">0.75</text>
<text class="tk" x="363.1" y="213.2">0.85</text>
<text class="tk" x="363.1" y="200.2">0.95</text>
<text class="yl" transform="translate(349.1,234.2) rotate(-90)">Mean AUROC - 18 Classes</text>
<rect x="375.84" y="209.80" width="8.95" height="66.20" fill="#00a085"/>
<line class="eb" x1="380.31" x2="380.31" y1="209.02" y2="210.60"/>
<circle class="dt" cx="380.31" cy="208.80" r=".88"/>
<circle class="dt" cx="380.31" cy="209.30" r=".88"/>
<circle class="dt" cx="380.31" cy="209.83" r=".88"/>
<circle class="dt" cx="380.31" cy="210.41" r=".88"/>
<circle class="dt" cx="380.31" cy="210.80" r=".88"/>
<text class="pc" x="380.31" y="281.8">100%</text>
<rect x="387.69" y="212.20" width="8.95" height="63.80" fill="#00a085"/>
<line class="eb" x1="392.17" x2="392.17" y1="211.42" y2="213.00"/>
<circle class="dt" cx="392.17" cy="211.20" r=".88"/>
<circle class="dt" cx="392.17" cy="211.75" r=".88"/>
<circle class="dt" cx="392.17" cy="212.20" r=".88"/>
<circle class="dt" cx="392.17" cy="212.71" r=".88"/>
<circle class="dt" cx="392.17" cy="213.20" r=".88"/>
<text class="pc" x="392.17" y="281.8">40%</text>
<rect x="399.54" y="216.10" width="8.95" height="59.90" fill="#00a085"/>
<line class="eb" x1="404.02" x2="404.02" y1="215.32" y2="216.90"/>
<circle class="dt" cx="404.02" cy="215.10" r=".88"/>
<circle class="dt" cx="404.02" cy="215.61" r=".88"/>
<circle class="dt" cx="404.02" cy="216.09" r=".88"/>
<circle class="dt" cx="404.02" cy="216.79" r=".88"/>
<circle class="dt" cx="404.02" cy="217.10" r=".88"/>
<text class="pc" x="404.02" y="281.8">10%</text>
<text class="gl" transform="translate(394.8,286.1) rotate(-45)">TANGERINE</text>
<rect x="420.29" y="222.60" width="8.95" height="53.40" fill="#00aa8f"/>
<line class="eb" x1="424.76" x2="424.76" y1="221.66" y2="223.56"/>
<circle class="dt" cx="424.76" cy="221.40" r=".88"/>
<circle class="dt" cx="424.76" cy="222.23" r=".88"/>
<circle class="dt" cx="424.76" cy="222.47" r=".88"/>
<circle class="dt" cx="424.76" cy="223.23" r=".88"/>
<circle class="dt" cx="424.76" cy="223.80" r=".88"/>
<text class="pc" x="424.76" y="281.8">100%</text>
<rect x="432.14" y="224.70" width="8.95" height="51.30" fill="#00aa8f"/>
<line class="eb" x1="436.61" x2="436.61" y1="223.76" y2="225.66"/>
<circle class="dt" cx="436.61" cy="223.50" r=".88"/>
<circle class="dt" cx="436.61" cy="223.91" r=".88"/>
<circle class="dt" cx="436.61" cy="224.50" r=".88"/>
<circle class="dt" cx="436.61" cy="225.27" r=".88"/>
<circle class="dt" cx="436.61" cy="225.90" r=".88"/>
<text class="pc" x="436.61" y="281.8">40%</text>
<rect x="443.99" y="226.30" width="8.95" height="49.70" fill="#00aa8f"/>
<line class="eb" x1="448.46" x2="448.46" y1="225.36" y2="227.26"/>
<circle class="dt" cx="448.46" cy="225.10" r=".88"/>
<circle class="dt" cx="448.46" cy="225.47" r=".88"/>
<circle class="dt" cx="448.46" cy="226.39" r=".88"/>
<circle class="dt" cx="448.46" cy="227.05" r=".88"/>
<circle class="dt" cx="448.46" cy="227.50" r=".88"/>
<text class="pc" x="448.46" y="281.8">10%</text>
<text class="gl" transform="translate(439.2,286.1) rotate(-45)">CT-Clip</text>
<rect x="464.73" y="214.00" width="8.95" height="62.00" fill="#00b198"/>
<line class="eb" x1="469.20" x2="469.20" y1="213.38" y2="214.64"/>
<circle class="dt" cx="469.20" cy="213.20" r=".88"/>
<circle class="dt" cx="469.20" cy="213.68" r=".88"/>
<circle class="dt" cx="469.20" cy="214.06" r=".88"/>
<circle class="dt" cx="469.20" cy="214.27" r=".88"/>
<circle class="dt" cx="469.20" cy="214.80" r=".88"/>
<text class="pc" x="469.20" y="281.8">100%</text>
<rect x="476.58" y="214.80" width="8.95" height="61.20" fill="#00b198"/>
<line class="eb" x1="481.06" x2="481.06" y1="214.18" y2="215.44"/>
<circle class="dt" cx="481.06" cy="214.00" r=".88"/>
<circle class="dt" cx="481.06" cy="214.30" r=".88"/>
<circle class="dt" cx="481.06" cy="214.96" r=".88"/>
<circle class="dt" cx="481.06" cy="215.16" r=".88"/>
<circle class="dt" cx="481.06" cy="215.60" r=".88"/>
<text class="pc" x="481.06" y="281.8">40%</text>
<rect x="488.43" y="216.50" width="8.95" height="59.50" fill="#00b198"/>
<line class="eb" x1="492.91" x2="492.91" y1="215.72" y2="217.30"/>
<circle class="dt" cx="492.91" cy="215.50" r=".88"/>
<circle class="dt" cx="492.91" cy="216.15" r=".88"/>
<circle class="dt" cx="492.91" cy="216.35" r=".88"/>
<circle class="dt" cx="492.91" cy="216.97" r=".88"/>
<circle class="dt" cx="492.91" cy="217.50" r=".88"/>
<text class="pc" x="492.91" y="281.8">10%</text>
<text class="gl" transform="translate(483.7,286.1) rotate(-45)">CT-Foundation-Gemini</text>
<rect x="509.17" y="218.00" width="8.95" height="58.00" fill="#00b9a2"/>
<line class="eb" x1="513.65" x2="513.65" y1="216.83" y2="219.20"/>
<circle class="dt" cx="513.65" cy="216.50" r=".88"/>
<circle class="dt" cx="513.65" cy="217.05" r=".88"/>
<circle class="dt" cx="513.65" cy="217.88" r=".88"/>
<circle class="dt" cx="513.65" cy="218.90" r=".88"/>
<circle class="dt" cx="513.65" cy="219.50" r=".88"/>
<text class="pc" x="513.65" y="281.8">100%</text>
<rect x="521.03" y="222.40" width="8.95" height="53.60" fill="#00b9a2"/>
<line class="eb" x1="525.50" x2="525.50" y1="221.23" y2="223.60"/>
<circle class="dt" cx="525.50" cy="220.90" r=".88"/>
<circle class="dt" cx="525.50" cy="221.61" r=".88"/>
<circle class="dt" cx="525.50" cy="222.08" r=".88"/>
<circle class="dt" cx="525.50" cy="223.04" r=".88"/>
<circle class="dt" cx="525.50" cy="223.90" r=".88"/>
<text class="pc" x="525.50" y="281.8">40%</text>
<rect x="532.88" y="227.20" width="8.95" height="48.80" fill="#00b9a2"/>
<line class="eb" x1="537.35" x2="537.35" y1="226.26" y2="228.16"/>
<circle class="dt" cx="537.35" cy="226.00" r=".88"/>
<circle class="dt" cx="537.35" cy="226.37" r=".88"/>
<circle class="dt" cx="537.35" cy="227.46" r=".88"/>
<circle class="dt" cx="537.35" cy="227.95" r=".88"/>
<circle class="dt" cx="537.35" cy="228.40" r=".88"/>
<text class="pc" x="537.35" y="281.8">10%</text>
<text class="gl" transform="translate(528.1,286.1) rotate(-45)">ViT</text>
<rect x="553.62" y="241.10" width="8.95" height="34.90" fill="#00c3aa"/>
<line class="eb" x1="558.09" x2="558.09" y1="235.64" y2="247.50"/>
<circle class="dt" cx="558.09" cy="234.10" r=".88"/>
<circle class="dt" cx="558.09" cy="237.08" r=".88"/>
<circle class="dt" cx="558.09" cy="240.08" r=".88"/>
<circle class="dt" cx="558.09" cy="246.27" r=".88"/>
<circle class="dt" cx="558.09" cy="249.10" r=".88"/>
<text class="pc" x="558.09" y="281.8">100%</text>
<rect x="565.47" y="247.40" width="8.95" height="28.60" fill="#00c3aa"/>
<line class="eb" x1="569.94" x2="569.94" y1="238.82" y2="256.20"/>
<circle class="dt" cx="569.94" cy="236.40" r=".88"/>
<circle class="dt" cx="569.94" cy="241.52" r=".88"/>
<circle class="dt" cx="569.94" cy="249.39" r=".88"/>
<circle class="dt" cx="569.94" cy="254.44" r=".88"/>
<circle class="dt" cx="569.94" cy="258.40" r=".88"/>
<text class="pc" x="569.94" y="281.8">40%</text>
<rect x="577.32" y="240.00" width="8.95" height="36.00" fill="#00c3aa"/>
<line class="eb" x1="581.80" x2="581.80" y1="232.20" y2="245.20"/>
<circle class="dt" cx="581.80" cy="230.00" r=".88"/>
<circle class="dt" cx="581.80" cy="235.65" r=".88"/>
<circle class="dt" cx="581.80" cy="238.51" r=".88"/>
<circle class="dt" cx="581.80" cy="243.10" r=".88"/>
<circle class="dt" cx="581.80" cy="246.50" r=".88"/>
<text class="pc" x="581.80" y="281.8">10%</text>
<text class="gl" transform="translate(572.5,286.1) rotate(-45)">Med3D-ResNet</text>
<rect x="598.06" y="257.90" width="8.95" height="18.10" fill="#00cbb7"/>
<line class="eb" x1="602.54" x2="602.54" y1="254.00" y2="263.50"/>
<circle class="dt" cx="602.54" cy="252.90" r=".88"/>
<circle class="dt" cx="602.54" cy="256.40" r=".88"/>
<circle class="dt" cx="602.54" cy="258.70" r=".88"/>
<circle class="dt" cx="602.54" cy="260.77" r=".88"/>
<circle class="dt" cx="602.54" cy="264.90" r=".88"/>
<text class="pc" x="602.54" y="281.8">100%</text>
<rect x="609.91" y="262.80" width="8.95" height="13.20" fill="#00cbb7"/>
<line class="eb" x1="614.39" x2="614.39" y1="256.56" y2="271.20"/>
<circle class="dt" cx="614.39" cy="254.80" r=".88"/>
<circle class="dt" cx="614.39" cy="260.65" r=".88"/>
<circle class="dt" cx="614.39" cy="262.36" r=".88"/>
<circle class="dt" cx="614.39" cy="270.12" r=".88"/>
<circle class="dt" cx="614.39" cy="273.30" r=".88"/>
<text class="pc" x="614.39" y="281.8">40%</text>
<rect x="621.77" y="258.10" width="8.95" height="17.90" fill="#00cbb7"/>
<line class="eb" x1="626.24" x2="626.24" y1="255.76" y2="260.90"/>
<circle class="dt" cx="626.24" cy="255.10" r=".88"/>
<circle class="dt" cx="626.24" cy="256.66" r=".88"/>
<circle class="dt" cx="626.24" cy="258.12" r=".88"/>
<circle class="dt" cx="626.24" cy="260.05" r=".88"/>
<circle class="dt" cx="626.24" cy="261.60" r=".88"/>
<text class="pc" x="626.24" y="281.8">10%</text>
<text class="gl" transform="translate(617.0,286.1) rotate(-45)">CT-Cancer-Foundation-Full</text>
<rect x="642.51" y="243.00" width="8.95" height="33.00" fill="#00d5be"/>
<line class="eb" x1="646.98" x2="646.98" y1="236.76" y2="247.80"/>
<circle class="dt" cx="646.98" cy="235.00" r=".88"/>
<circle class="dt" cx="646.98" cy="237.36" r=".88"/>
<circle class="dt" cx="646.98" cy="242.08" r=".88"/>
<circle class="dt" cx="646.98" cy="244.69" r=".88"/>
<circle class="dt" cx="646.98" cy="249.00" r=".88"/>
<text class="pc" x="646.98" y="281.8">100%</text>
<rect x="654.36" y="240.00" width="8.95" height="36.00" fill="#00d5be"/>
<line class="eb" x1="658.83" x2="658.83" y1="235.71" y2="244.40"/>
<circle class="dt" cx="658.83" cy="234.50" r=".88"/>
<circle class="dt" cx="658.83" cy="236.16" r=".88"/>
<circle class="dt" cx="658.83" cy="239.28" r=".88"/>
<circle class="dt" cx="658.83" cy="242.30" r=".88"/>
<circle class="dt" cx="658.83" cy="245.50" r=".88"/>
<text class="pc" x="658.83" y="281.8">40%</text>
<rect x="666.21" y="245.30" width="8.95" height="30.70" fill="#00d5be"/>
<line class="eb" x1="670.69" x2="670.69" y1="241.40" y2="248.10"/>
<circle class="dt" cx="670.69" cy="240.30" r=".88"/>
<circle class="dt" cx="670.69" cy="242.03" r=".88"/>
<circle class="dt" cx="670.69" cy="244.55" r=".88"/>
<circle class="dt" cx="670.69" cy="246.07" r=".88"/>
<circle class="dt" cx="670.69" cy="248.80" r=".88"/>
<text class="pc" x="670.69" y="281.8">10%</text>
<text class="gl" transform="translate(661.4,286.1) rotate(-45)">ResNet</text>
<line x1="392.2" x2="481.1" y1="201.3" y2="201.3" stroke="#555" stroke-width="0.75"/>
<text class="pv" x="447.0" y="200.95"><tspan font-style="italic">P</tspan> = .003</text>
<line x1="404.0" x2="491.6" y1="208.3" y2="208.3" stroke="#555" stroke-width=".8" stroke-dasharray=".6 1.1"/>
<text class="pv" x="447.0" y="207.85"><tspan font-style="italic">P</tspan> = .597</text>
</g>
<g id="c4">
<text class="ti" x="19.9" y="357.9">Cancer-NLST-ACRIN</text>
<g class="gm">
<line x1="20.0" x2="340.0" y1="444.12" y2="444.12"/>
<line x1="20.0" x2="340.0" y1="431.15" y2="431.15"/>
<line x1="20.0" x2="340.0" y1="418.18" y2="418.18"/>
<line x1="20.0" x2="340.0" y1="405.22" y2="405.22"/>
<line x1="20.0" x2="340.0" y1="392.25" y2="392.25"/>
<line x1="20.0" x2="340.0" y1="379.28" y2="379.28"/>
<line x1="20.0" x2="340.0" y1="366.32" y2="366.32"/>
</g><g class="gr">
<line x1="20.0" x2="340.0" y1="450.60" y2="450.60"/>
<line x1="20.0" x2="340.0" y1="437.63" y2="437.63"/>
<line x1="20.0" x2="340.0" y1="424.67" y2="424.67"/>
<line x1="20.0" x2="340.0" y1="411.70" y2="411.70"/>
<line x1="20.0" x2="340.0" y1="398.73" y2="398.73"/>
<line x1="20.0" x2="340.0" y1="385.77" y2="385.77"/>
<line x1="20.0" x2="340.0" y1="372.80" y2="372.80"/>
</g>
<text class="tk" x="17.6" y="452.7">0.35</text>
<text class="tk" x="17.6" y="439.7">0.45</text>
<text class="tk" x="17.6" y="426.7">0.55</text>
<text class="tk" x="17.6" y="413.8">0.65</text>
<text class="tk" x="17.6" y="400.8">0.75</text>
<text class="tk" x="17.6" y="387.8">0.85</text>
<text class="tk" x="17.6" y="374.9">0.95</text>
<text class="yl" transform="translate(3.9,408.1) rotate(-90)">AUROC</text>
<rect x="30.34" y="377.00" width="8.95" height="73.60" fill="#ff4b2f"/>
<line class="eb" x1="34.81" x2="34.81" y1="373.88" y2="381.00"/>
<circle class="dt" cx="34.81" cy="373.00" r=".88"/>
<circle class="dt" cx="34.81" cy="374.76" r=".88"/>
<circle class="dt" cx="34.81" cy="376.54" r=".88"/>
<circle class="dt" cx="34.81" cy="380.21" r=".88"/>
<circle class="dt" cx="34.81" cy="382.00" r=".88"/>
<text class="pc" x="34.81" y="456.5">100%</text>
<rect x="42.19" y="382.90" width="8.95" height="67.70" fill="#ff4b2f"/>
<line class="eb" x1="46.67" x2="46.67" y1="377.83" y2="386.50"/>
<circle class="dt" cx="46.67" cy="376.40" r=".88"/>
<circle class="dt" cx="46.67" cy="379.09" r=".88"/>
<circle class="dt" cx="46.67" cy="382.95" r=".88"/>
<circle class="dt" cx="46.67" cy="383.70" r=".88"/>
<circle class="dt" cx="46.67" cy="387.40" r=".88"/>
<text class="pc" x="46.67" y="456.5">40%</text>
<rect x="54.04" y="434.00" width="8.95" height="16.60" fill="#ff4b2f"/>
<line class="eb" x1="58.52" x2="58.52" y1="427.76" y2="438.40"/>
<circle class="dt" cx="58.52" cy="426.00" r=".88"/>
<circle class="dt" cx="58.52" cy="429.36" r=".88"/>
<circle class="dt" cx="58.52" cy="433.74" r=".88"/>
<circle class="dt" cx="58.52" cy="435.81" r=".88"/>
<circle class="dt" cx="58.52" cy="439.50" r=".88"/>
<text class="pc" x="58.52" y="456.5">10%</text>
<text class="gl" transform="translate(49.3,460.7) rotate(-45)">TANGERINE</text>
<rect x="74.79" y="418.70" width="8.95" height="31.90" fill="#ff573f"/>
<line class="eb" x1="79.26" x2="79.26" y1="412.85" y2="423.50"/>
<circle class="dt" cx="79.26" cy="411.20" r=".88"/>
<circle class="dt" cx="79.26" cy="416.01" r=".88"/>
<circle class="dt" cx="79.26" cy="417.48" r=".88"/>
<circle class="dt" cx="79.26" cy="422.31" r=".88"/>
<circle class="dt" cx="79.26" cy="424.70" r=".88"/>
<text class="pc" x="79.26" y="456.5">100%</text>
<rect x="86.64" y="423.10" width="8.95" height="27.50" fill="#ff573f"/>
<line class="eb" x1="91.11" x2="91.11" y1="421.54" y2="424.70"/>
<circle class="dt" cx="91.11" cy="421.10" r=".88"/>
<circle class="dt" cx="91.11" cy="422.02" r=".88"/>
<circle class="dt" cx="91.11" cy="422.97" r=".88"/>
<circle class="dt" cx="91.11" cy="423.71" r=".88"/>
<circle class="dt" cx="91.11" cy="425.10" r=".88"/>
<text class="pc" x="91.11" y="456.5">40%</text>
<rect x="98.49" y="435.90" width="8.95" height="14.70" fill="#ff573f"/>
<line class="eb" x1="102.96" x2="102.96" y1="432.39" y2="438.70"/>
<circle class="dt" cx="102.96" cy="431.40" r=".88"/>
<circle class="dt" cx="102.96" cy="433.82" r=".88"/>
<circle class="dt" cx="102.96" cy="434.97" r=".88"/>
<circle class="dt" cx="102.96" cy="436.81" r=".88"/>
<circle class="dt" cx="102.96" cy="439.40" r=".88"/>
<text class="pc" x="102.96" y="456.5">10%</text>
<text class="gl" transform="translate(93.7,460.7) rotate(-45)">CT-Clip</text>
<rect x="119.23" y="414.00" width="8.95" height="36.60" fill="#ff624c"/>
<line class="eb" x1="123.70" x2="123.70" y1="410.10" y2="418.80"/>
<circle class="dt" cx="123.70" cy="409.00" r=".88"/>
<circle class="dt" cx="123.70" cy="412.65" r=".88"/>
<circle class="dt" cx="123.70" cy="414.91" r=".88"/>
<circle class="dt" cx="123.70" cy="416.72" r=".88"/>
<circle class="dt" cx="123.70" cy="420.00" r=".88"/>
<text class="pc" x="123.70" y="456.5">100%</text>
<rect x="131.08" y="422.20" width="8.95" height="28.40" fill="#ff624c"/>
<line class="eb" x1="135.56" x2="135.56" y1="418.30" y2="426.60"/>
<circle class="dt" cx="135.56" cy="417.20" r=".88"/>
<circle class="dt" cx="135.56" cy="419.73" r=".88"/>
<circle class="dt" cx="135.56" cy="421.66" r=".88"/>
<circle class="dt" cx="135.56" cy="424.95" r=".88"/>
<circle class="dt" cx="135.56" cy="427.70" r=".88"/>
<text class="pc" x="135.56" y="456.5">40%</text>
<rect x="142.93" y="423.10" width="8.95" height="27.50" fill="#ff624c"/>
<line class="eb" x1="147.41" x2="147.41" y1="418.42" y2="426.30"/>
<circle class="dt" cx="147.41" cy="417.10" r=".88"/>
<circle class="dt" cx="147.41" cy="420.64" r=".88"/>
<circle class="dt" cx="147.41" cy="422.20" r=".88"/>
<circle class="dt" cx="147.41" cy="424.04" r=".88"/>
<circle class="dt" cx="147.41" cy="427.10" r=".88"/>
<text class="pc" x="147.41" y="456.5">10%</text>
<text class="gl" transform="translate(138.2,460.7) rotate(-45)">CT-Foundation-Gemini</text>
<rect x="163.67" y="426.90" width="8.95" height="23.70" fill="#ff7564"/>
<line class="eb" x1="168.15" x2="168.15" y1="426.28" y2="427.54"/>
<circle class="dt" cx="168.15" cy="426.10" r=".88"/>
<circle class="dt" cx="168.15" cy="426.45" r=".88"/>
<circle class="dt" cx="168.15" cy="426.72" r=".88"/>
<circle class="dt" cx="168.15" cy="427.26" r=".88"/>
<circle class="dt" cx="168.15" cy="427.70" r=".88"/>
<text class="pc" x="168.15" y="456.5">100%</text>
<rect x="175.53" y="422.20" width="8.95" height="28.40" fill="#ff7564"/>
<line class="eb" x1="180.00" x2="180.00" y1="416.74" y2="427.40"/>
<circle class="dt" cx="180.00" cy="415.20" r=".88"/>
<circle class="dt" cx="180.00" cy="417.69" r=".88"/>
<circle class="dt" cx="180.00" cy="421.96" r=".88"/>
<circle class="dt" cx="180.00" cy="423.85" r=".88"/>
<circle class="dt" cx="180.00" cy="428.70" r=".88"/>
<text class="pc" x="180.00" y="456.5">40%</text>
<rect x="187.38" y="434.90" width="8.95" height="15.70" fill="#ff7564"/>
<line class="eb" x1="191.85" x2="191.85" y1="430.61" y2="440.50"/>
<circle class="dt" cx="191.85" cy="429.40" r=".88"/>
<circle class="dt" cx="191.85" cy="432.25" r=".88"/>
<circle class="dt" cx="191.85" cy="434.39" r=".88"/>
<circle class="dt" cx="191.85" cy="437.46" r=".88"/>
<circle class="dt" cx="191.85" cy="441.90" r=".88"/>
<text class="pc" x="191.85" y="456.5">10%</text>
<text class="gl" transform="translate(182.6,460.7) rotate(-45)">ViT</text>
<rect x="208.12" y="427.10" width="8.95" height="23.50" fill="#ff8779"/>
<line class="eb" x1="212.59" x2="212.59" y1="422.42" y2="431.10"/>
<circle class="dt" cx="212.59" cy="421.10" r=".88"/>
<circle class="dt" cx="212.59" cy="424.06" r=".88"/>
<circle class="dt" cx="212.59" cy="426.67" r=".88"/>
<circle class="dt" cx="212.59" cy="429.96" r=".88"/>
<circle class="dt" cx="212.59" cy="432.10" r=".88"/>
<text class="pc" x="212.59" y="456.5">100%</text>
<rect x="219.97" y="428.10" width="8.95" height="22.50" fill="#ff8779"/>
<line class="eb" x1="224.44" x2="224.44" y1="423.03" y2="432.50"/>
<circle class="dt" cx="224.44" cy="421.60" r=".88"/>
<circle class="dt" cx="224.44" cy="425.60" r=".88"/>
<circle class="dt" cx="224.44" cy="427.31" r=".88"/>
<circle class="dt" cx="224.44" cy="430.14" r=".88"/>
<circle class="dt" cx="224.44" cy="433.60" r=".88"/>
<text class="pc" x="224.44" y="456.5">40%</text>
<rect x="231.82" y="432.80" width="8.95" height="17.80" fill="#ff8779"/>
<line class="eb" x1="236.30" x2="236.30" y1="431.86" y2="433.60"/>
<circle class="dt" cx="236.30" cy="431.60" r=".88"/>
<circle class="dt" cx="236.30" cy="432.26" r=".88"/>
<circle class="dt" cx="236.30" cy="432.77" r=".88"/>
<circle class="dt" cx="236.30" cy="433.03" r=".88"/>
<circle class="dt" cx="236.30" cy="433.80" r=".88"/>
<text class="pc" x="236.30" y="456.5">10%</text>
<text class="gl" transform="translate(227.0,460.7) rotate(-45)">Med3D-ResNet</text>
<rect x="252.56" y="386.30" width="8.95" height="64.30" fill="#ff978c"/>
<line class="eb" x1="257.04" x2="257.04" y1="382.40" y2="390.70"/>
<circle class="dt" cx="257.04" cy="381.30" r=".88"/>
<circle class="dt" cx="257.04" cy="384.22" r=".88"/>
<circle class="dt" cx="257.04" cy="387.09" r=".88"/>
<circle class="dt" cx="257.04" cy="389.90" r=".88"/>
<circle class="dt" cx="257.04" cy="391.80" r=".88"/>
<text class="pc" x="257.04" y="456.5">100%</text>
<rect x="264.41" y="405.00" width="8.95" height="45.60" fill="#ff978c"/>
<line class="eb" x1="268.89" x2="268.89" y1="396.81" y2="411.40"/>
<circle class="dt" cx="268.89" cy="394.50" r=".88"/>
<circle class="dt" cx="268.89" cy="399.14" r=".88"/>
<circle class="dt" cx="268.89" cy="405.11" r=".88"/>
<circle class="dt" cx="268.89" cy="409.62" r=".88"/>
<circle class="dt" cx="268.89" cy="413.00" r=".88"/>
<text class="pc" x="268.89" y="456.5">40%</text>
<rect x="276.27" y="431.70" width="8.95" height="18.90" fill="#ff978c"/>
<line class="eb" x1="280.74" x2="280.74" y1="425.85" y2="436.50"/>
<circle class="dt" cx="280.74" cy="424.20" r=".88"/>
<circle class="dt" cx="280.74" cy="428.74" r=".88"/>
<circle class="dt" cx="280.74" cy="431.49" r=".88"/>
<circle class="dt" cx="280.74" cy="434.90" r=".88"/>
<circle class="dt" cx="280.74" cy="437.70" r=".88"/>
<text class="pc" x="280.74" y="456.5">10%</text>
<text class="gl" transform="translate(271.5,460.7) rotate(-45)">CT-Cancer-Foundation-Patch</text>
<rect x="297.01" y="422.50" width="8.95" height="28.10" fill="#ffa69d"/>
<line class="eb" x1="301.48" x2="301.48" y1="419.77" y2="425.70"/>
<circle class="dt" cx="301.48" cy="419.00" r=".88"/>
<circle class="dt" cx="301.48" cy="420.27" r=".88"/>
<circle class="dt" cx="301.48" cy="422.52" r=".88"/>
<circle class="dt" cx="301.48" cy="423.97" r=".88"/>
<circle class="dt" cx="301.48" cy="426.50" r=".88"/>
<text class="pc" x="301.48" y="456.5">100%</text>
<rect x="308.86" y="428.10" width="8.95" height="22.50" fill="#ffa69d"/>
<line class="eb" x1="313.33" x2="313.33" y1="420.30" y2="437.70"/>
<circle class="dt" cx="313.33" cy="418.10" r=".88"/>
<circle class="dt" cx="313.33" cy="424.22" r=".88"/>
<circle class="dt" cx="313.33" cy="429.71" r=".88"/>
<circle class="dt" cx="313.33" cy="435.47" r=".88"/>
<circle class="dt" cx="313.33" cy="440.10" r=".88"/>
<text class="pc" x="313.33" y="456.5">40%</text>
<rect x="320.71" y="432.80" width="8.95" height="17.80" fill="#ffa69d"/>
<line class="eb" x1="325.19" x2="325.19" y1="425.39" y2="437.60"/>
<circle class="dt" cx="325.19" cy="423.30" r=".88"/>
<circle class="dt" cx="325.19" cy="428.19" r=".88"/>
<circle class="dt" cx="325.19" cy="431.90" r=".88"/>
<circle class="dt" cx="325.19" cy="434.94" r=".88"/>
<circle class="dt" cx="325.19" cy="438.80" r=".88"/>
<text class="pc" x="325.19" y="456.5">10%</text>
<text class="gl" transform="translate(315.9,460.7) rotate(-45)">ResNet</text>
<line x1="46.7" x2="268.9" y1="365.0" y2="365.0" stroke="#8c8c8c" stroke-width="1.3"/>
<text class="pv" x="102.0" y="364.65"><tspan font-style="italic">P</tspan> = .030</text>
<line x1="58.5" x2="147.4" y1="371.9" y2="371.9" stroke="#858585" stroke-width=".8" stroke-dasharray=".6 1.1"/>
<text class="pv" x="102.0" y="371.45"><tspan font-style="italic">P</tspan> = .116</text>
</g>
<g id="c5">
<text class="ti" x="365.4" y="357.9">Coronary Calcification-COCA</text>
<g class="gm">
<line x1="365.5" x2="685.0" y1="444.12" y2="444.12"/>
<line x1="365.5" x2="685.0" y1="431.15" y2="431.15"/>
<line x1="365.5" x2="685.0" y1="418.18" y2="418.18"/>
<line x1="365.5" x2="685.0" y1="405.22" y2="405.22"/>
<line x1="365.5" x2="685.0" y1="392.25" y2="392.25"/>
<line x1="365.5" x2="685.0" y1="379.28" y2="379.28"/>
<line x1="365.5" x2="685.0" y1="366.32" y2="366.32"/>
</g><g class="gr">
<line x1="365.5" x2="685.0" y1="450.60" y2="450.60"/>
<line x1="365.5" x2="685.0" y1="437.63" y2="437.63"/>
<line x1="365.5" x2="685.0" y1="424.67" y2="424.67"/>
<line x1="365.5" x2="685.0" y1="411.70" y2="411.70"/>
<line x1="365.5" x2="685.0" y1="398.73" y2="398.73"/>
<line x1="365.5" x2="685.0" y1="385.77" y2="385.77"/>
<line x1="365.5" x2="685.0" y1="372.80" y2="372.80"/>
</g>
<text class="tk" x="363.1" y="452.7">0.35</text>
<text class="tk" x="363.1" y="439.7">0.45</text>
<text class="tk" x="363.1" y="426.7">0.55</text>
<text class="tk" x="363.1" y="413.8">0.65</text>
<text class="tk" x="363.1" y="400.8">0.75</text>
<text class="tk" x="363.1" y="387.8">0.85</text>
<text class="tk" x="363.1" y="374.9">0.95</text>
<text class="yl" transform="translate(349.1,408.1) rotate(-90)">AUROC</text>
<rect x="375.84" y="395.30" width="8.95" height="55.30" fill="#ff4b2f"/>
<line class="eb" x1="380.31" x2="380.31" y1="392.96" y2="397.70"/>
<circle class="dt" cx="380.31" cy="392.30" r=".88"/>
<circle class="dt" cx="380.31" cy="393.23" r=".88"/>
<circle class="dt" cx="380.31" cy="395.61" r=".88"/>
<circle class="dt" cx="380.31" cy="396.47" r=".88"/>
<circle class="dt" cx="380.31" cy="398.30" r=".88"/>
<text class="pc" x="380.31" y="456.5">100%</text>
<rect x="387.69" y="399.70" width="8.95" height="50.90" fill="#ff4b2f"/>
<line class="eb" x1="392.17" x2="392.17" y1="397.36" y2="401.70"/>
<circle class="dt" cx="392.17" cy="396.70" r=".88"/>
<circle class="dt" cx="392.17" cy="398.35" r=".88"/>
<circle class="dt" cx="392.17" cy="399.09" r=".88"/>
<circle class="dt" cx="392.17" cy="401.12" r=".88"/>
<circle class="dt" cx="392.17" cy="402.20" r=".88"/>
<text class="pc" x="392.17" y="456.5">40%</text>
<rect x="399.54" y="409.20" width="8.95" height="41.40" fill="#ff4b2f"/>
<line class="eb" x1="404.02" x2="404.02" y1="406.86" y2="410.80"/>
<circle class="dt" cx="404.02" cy="406.20" r=".88"/>
<circle class="dt" cx="404.02" cy="407.32" r=".88"/>
<circle class="dt" cx="404.02" cy="408.68" r=".88"/>
<circle class="dt" cx="404.02" cy="410.15" r=".88"/>
<circle class="dt" cx="404.02" cy="411.20" r=".88"/>
<text class="pc" x="404.02" y="456.5">10%</text>
<text class="gl" transform="translate(394.8,460.7) rotate(-45)">TANGERINE</text>
<rect x="420.29" y="418.00" width="8.95" height="32.60" fill="#ff573f"/>
<line class="eb" x1="424.76" x2="424.76" y1="416.44" y2="419.20"/>
<circle class="dt" cx="424.76" cy="416.00" r=".88"/>
<circle class="dt" cx="424.76" cy="416.98" r=".88"/>
<circle class="dt" cx="424.76" cy="417.42" r=".88"/>
<circle class="dt" cx="424.76" cy="418.35" r=".88"/>
<circle class="dt" cx="424.76" cy="419.50" r=".88"/>
<text class="pc" x="424.76" y="456.5">100%</text>
<rect x="432.14" y="424.80" width="8.95" height="25.80" fill="#ff573f"/>
<line class="eb" x1="436.61" x2="436.61" y1="420.51" y2="428.00"/>
<circle class="dt" cx="436.61" cy="419.30" r=".88"/>
<circle class="dt" cx="436.61" cy="421.27" r=".88"/>
<circle class="dt" cx="436.61" cy="424.19" r=".88"/>
<circle class="dt" cx="436.61" cy="425.41" r=".88"/>
<circle class="dt" cx="436.61" cy="428.80" r=".88"/>
<text class="pc" x="436.61" y="456.5">40%</text>
<rect x="443.99" y="421.60" width="8.95" height="29.00" fill="#ff573f"/>
<line class="eb" x1="448.46" x2="448.46" y1="415.36" y2="426.40"/>
<circle class="dt" cx="448.46" cy="413.60" r=".88"/>
<circle class="dt" cx="448.46" cy="417.63" r=".88"/>
<circle class="dt" cx="448.46" cy="421.19" r=".88"/>
<circle class="dt" cx="448.46" cy="424.64" r=".88"/>
<circle class="dt" cx="448.46" cy="427.60" r=".88"/>
<text class="pc" x="448.46" y="456.5">10%</text>
<text class="gl" transform="translate(439.2,460.7) rotate(-45)">CT-Clip</text>
<rect x="464.73" y="392.00" width="8.95" height="58.60" fill="#ff624c"/>
<line class="eb" x1="469.20" x2="469.20" y1="387.71" y2="394.80"/>
<circle class="dt" cx="469.20" cy="386.50" r=".88"/>
<circle class="dt" cx="469.20" cy="388.68" r=".88"/>
<circle class="dt" cx="469.20" cy="390.93" r=".88"/>
<circle class="dt" cx="469.20" cy="392.49" r=".88"/>
<circle class="dt" cx="469.20" cy="395.50" r=".88"/>
<text class="pc" x="469.20" y="456.5">100%</text>
<rect x="476.58" y="403.10" width="8.95" height="47.50" fill="#ff624c"/>
<line class="eb" x1="481.06" x2="481.06" y1="398.42" y2="409.50"/>
<circle class="dt" cx="481.06" cy="397.10" r=".88"/>
<circle class="dt" cx="481.06" cy="402.07" r=".88"/>
<circle class="dt" cx="481.06" cy="405.44" r=".88"/>
<circle class="dt" cx="481.06" cy="406.11" r=".88"/>
<circle class="dt" cx="481.06" cy="411.10" r=".88"/>
<text class="pc" x="481.06" y="456.5">40%</text>
<rect x="488.43" y="417.20" width="8.95" height="33.40" fill="#ff624c"/>
<line class="eb" x1="492.91" x2="492.91" y1="411.74" y2="423.20"/>
<circle class="dt" cx="492.91" cy="410.20" r=".88"/>
<circle class="dt" cx="492.91" cy="415.32" r=".88"/>
<circle class="dt" cx="492.91" cy="417.29" r=".88"/>
<circle class="dt" cx="492.91" cy="420.34" r=".88"/>
<circle class="dt" cx="492.91" cy="424.70" r=".88"/>
<text class="pc" x="492.91" y="456.5">10%</text>
<text class="gl" transform="translate(483.7,460.7) rotate(-45)">CT-Foundation-Gemini</text>
<rect x="509.17" y="418.90" width="8.95" height="31.70" fill="#ff7564"/>
<line class="eb" x1="513.65" x2="513.65" y1="413.05" y2="425.30"/>
<circle class="dt" cx="513.65" cy="411.40" r=".88"/>
<circle class="dt" cx="513.65" cy="414.29" r=".88"/>
<circle class="dt" cx="513.65" cy="419.43" r=".88"/>
<circle class="dt" cx="513.65" cy="421.80" r=".88"/>
<circle class="dt" cx="513.65" cy="426.90" r=".88"/>
<text class="pc" x="513.65" y="456.5">100%</text>
<rect x="521.03" y="429.00" width="8.95" height="21.60" fill="#ff7564"/>
<line class="eb" x1="525.50" x2="525.50" y1="421.98" y2="433.80"/>
<circle class="dt" cx="525.50" cy="420.00" r=".88"/>
<circle class="dt" cx="525.50" cy="422.54" r=".88"/>
<circle class="dt" cx="525.50" cy="428.56" r=".88"/>
<circle class="dt" cx="525.50" cy="431.28" r=".88"/>
<circle class="dt" cx="525.50" cy="435.00" r=".88"/>
<text class="pc" x="525.50" y="456.5">40%</text>
<rect x="532.88" y="431.10" width="8.95" height="19.50" fill="#ff7564"/>
<line class="eb" x1="537.35" x2="537.35" y1="423.30" y2="436.70"/>
<circle class="dt" cx="537.35" cy="421.10" r=".88"/>
<circle class="dt" cx="537.35" cy="424.35" r=".88"/>
<circle class="dt" cx="537.35" cy="431.09" r=".88"/>
<circle class="dt" cx="537.35" cy="433.80" r=".88"/>
<circle class="dt" cx="537.35" cy="438.10" r=".88"/>
<text class="pc" x="537.35" y="456.5">10%</text>
<text class="gl" transform="translate(528.1,460.7) rotate(-45)">ViT</text>
<rect x="553.62" y="427.90" width="8.95" height="22.70" fill="#ff8779"/>
<line class="eb" x1="558.09" x2="558.09" y1="419.32" y2="437.50"/>
<circle class="dt" cx="558.09" cy="416.90" r=".88"/>
<circle class="dt" cx="558.09" cy="422.61" r=".88"/>
<circle class="dt" cx="558.09" cy="428.15" r=".88"/>
<circle class="dt" cx="558.09" cy="433.15" r=".88"/>
<circle class="dt" cx="558.09" cy="439.90" r=".88"/>
<text class="pc" x="558.09" y="456.5">100%</text>
<rect x="565.47" y="440.80" width="8.95" height="9.80" fill="#ff8779"/>
<line class="eb" x1="569.94" x2="569.94" y1="433.39" y2="445.20"/>
<circle class="dt" cx="569.94" cy="431.30" r=".88"/>
<circle class="dt" cx="569.94" cy="434.44" r=".88"/>
<circle class="dt" cx="569.94" cy="439.92" r=".88"/>
<circle class="dt" cx="569.94" cy="440.91" r=".88"/>
<circle class="dt" cx="569.94" cy="446.30" r=".88"/>
<text class="pc" x="569.94" y="456.5">40%</text>
<rect x="577.32" y="439.00" width="8.95" height="11.60" fill="#ff8779"/>
<line class="eb" x1="581.80" x2="581.80" y1="435.10" y2="444.60"/>
<circle class="dt" cx="581.80" cy="434.00" r=".88"/>
<circle class="dt" cx="581.80" cy="436.00" r=".88"/>
<circle class="dt" cx="581.80" cy="441.13" r=".88"/>
<circle class="dt" cx="581.80" cy="443.56" r=".88"/>
<circle class="dt" cx="581.80" cy="446.00" r=".88"/>
<text class="pc" x="581.80" y="456.5">10%</text>
<text class="gl" transform="translate(572.5,460.7) rotate(-45)">Med3D-ResNet</text>
<rect x="598.06" y="416.10" width="8.95" height="34.50" fill="#ff978c"/>
<line class="eb" x1="602.54" x2="602.54" y1="412.20" y2="419.30"/>
<circle class="dt" cx="602.54" cy="411.10" r=".88"/>
<circle class="dt" cx="602.54" cy="413.10" r=".88"/>
<circle class="dt" cx="602.54" cy="415.39" r=".88"/>
<circle class="dt" cx="602.54" cy="418.84" r=".88"/>
<circle class="dt" cx="602.54" cy="420.10" r=".88"/>
<text class="pc" x="602.54" y="456.5">100%</text>
<rect x="609.91" y="425.00" width="8.95" height="25.60" fill="#ff978c"/>
<line class="eb" x1="614.39" x2="614.39" y1="416.81" y2="431.40"/>
<circle class="dt" cx="614.39" cy="414.50" r=".88"/>
<circle class="dt" cx="614.39" cy="418.83" r=".88"/>
<circle class="dt" cx="614.39" cy="422.83" r=".88"/>
<circle class="dt" cx="614.39" cy="426.54" r=".88"/>
<circle class="dt" cx="614.39" cy="433.00" r=".88"/>
<text class="pc" x="614.39" y="456.5">40%</text>
<rect x="621.77" y="426.40" width="8.95" height="24.20" fill="#ff978c"/>
<line class="eb" x1="626.24" x2="626.24" y1="417.43" y2="436.80"/>
<circle class="dt" cx="626.24" cy="414.90" r=".88"/>
<circle class="dt" cx="626.24" cy="419.87" r=".88"/>
<circle class="dt" cx="626.24" cy="429.50" r=".88"/>
<circle class="dt" cx="626.24" cy="431.92" r=".88"/>
<circle class="dt" cx="626.24" cy="439.40" r=".88"/>
<text class="pc" x="626.24" y="456.5">10%</text>
<text class="gl" transform="translate(617.0,460.7) rotate(-45)">CT-Cancer-Foundation-Full</text>
<rect x="642.51" y="427.30" width="8.95" height="23.30" fill="#ffa69d"/>
<line class="eb" x1="646.98" x2="646.98" y1="420.67" y2="433.70"/>
<circle class="dt" cx="646.98" cy="418.80" r=".88"/>
<circle class="dt" cx="646.98" cy="421.80" r=".88"/>
<circle class="dt" cx="646.98" cy="426.59" r=".88"/>
<circle class="dt" cx="646.98" cy="432.83" r=".88"/>
<circle class="dt" cx="646.98" cy="435.30" r=".88"/>
<text class="pc" x="646.98" y="456.5">100%</text>
<rect x="654.36" y="434.90" width="8.95" height="15.70" fill="#ffa69d"/>
<line class="eb" x1="658.83" x2="658.83" y1="427.88" y2="440.50"/>
<circle class="dt" cx="658.83" cy="425.90" r=".88"/>
<circle class="dt" cx="658.83" cy="430.36" r=".88"/>
<circle class="dt" cx="658.83" cy="435.36" r=".88"/>
<circle class="dt" cx="658.83" cy="439.45" r=".88"/>
<circle class="dt" cx="658.83" cy="441.90" r=".88"/>
<text class="pc" x="658.83" y="456.5">40%</text>
<rect x="666.21" y="434.90" width="8.95" height="15.70" fill="#ffa69d"/>
<line class="eb" x1="670.69" x2="670.69" y1="429.44" y2="443.30"/>
<circle class="dt" cx="670.69" cy="427.90" r=".88"/>
<circle class="dt" cx="670.69" cy="430.54" r=".88"/>
<circle class="dt" cx="670.69" cy="437.54" r=".88"/>
<circle class="dt" cx="670.69" cy="440.84" r=".88"/>
<circle class="dt" cx="670.69" cy="445.40" r=".88"/>
<text class="pc" x="670.69" y="456.5">10%</text>
<text class="gl" transform="translate(661.4,460.7) rotate(-45)">ResNet</text>
<line x1="392.2" x2="481.1" y1="380.4" y2="380.4" stroke="#555" stroke-width="0.75"/>
<text class="pv" x="447.0" y="380.05"><tspan font-style="italic">P</tspan> = 1.000</text>
<line x1="404.0" x2="491.6" y1="387.4" y2="387.4" stroke="#555" stroke-width=".8" stroke-dasharray=".6 1.1"/>
<text class="pv" x="447.0" y="386.95"><tspan font-style="italic">P</tspan> = .118</text>
</g>
<g id="c6">
<text class="ti" x="19.9" y="530.8">Multi-Disease-RadChest</text>
<g class="gm">
<line x1="20.0" x2="340.0" y1="617.10" y2="617.10"/>
<line x1="20.0" x2="340.0" y1="604.10" y2="604.10"/>
<line x1="20.0" x2="340.0" y1="591.10" y2="591.10"/>
<line x1="20.0" x2="340.0" y1="578.10" y2="578.10"/>
<line x1="20.0" x2="340.0" y1="565.10" y2="565.10"/>
<line x1="20.0" x2="340.0" y1="552.10" y2="552.10"/>
<line x1="20.0" x2="340.0" y1="539.10" y2="539.10"/>
</g><g class="gr">
<line x1="20.0" x2="340.0" y1="623.60" y2="623.60"/>
<line x1="20.0" x2="340.0" y1="610.60" y2="610.60"/>
<line x1="20.0" x2="340.0" y1="597.60" y2="597.60"/>
<line x1="20.0" x2="340.0" y1="584.60" y2="584.60"/>
<line x1="20.0" x2="340.0" y1="571.60" y2="571.60"/>
<line x1="20.0" x2="340.0" y1="558.60" y2="558.60"/>
<line x1="20.0" x2="340.0" y1="545.60" y2="545.60"/>
</g>
<text class="tk" x="17.6" y="625.6">0.35</text>
<text class="tk" x="17.6" y="612.6">0.45</text>
<text class="tk" x="17.6" y="599.6">0.55</text>
<text class="tk" x="17.6" y="586.6">0.65</text>
<text class="tk" x="17.6" y="573.6">0.75</text>
<text class="tk" x="17.6" y="560.6">0.85</text>
<text class="tk" x="17.6" y="547.6">0.95</text>
<text class="yl" transform="translate(3.9,581.7) rotate(-90)">Mean AUROC - 17 Classes</text>
<rect x="30.34" y="570.80" width="8.95" height="52.80" fill="#ff4b2f"/>
<line class="eb" x1="34.81" x2="34.81" y1="569.63" y2="572.00"/>
<circle class="dt" cx="34.81" cy="569.30" r=".88"/>
<circle class="dt" cx="34.81" cy="569.91" r=".88"/>
<circle class="dt" cx="34.81" cy="570.50" r=".88"/>
<circle class="dt" cx="34.81" cy="571.83" r=".88"/>
<circle class="dt" cx="34.81" cy="572.30" r=".88"/>
<text class="pc" x="34.81" y="629.2">100%</text>
<rect x="42.19" y="575.60" width="8.95" height="48.00" fill="#ff4b2f"/>
<line class="eb" x1="46.67" x2="46.67" y1="574.04" y2="576.80"/>
<circle class="dt" cx="46.67" cy="573.60" r=".88"/>
<circle class="dt" cx="46.67" cy="574.35" r=".88"/>
<circle class="dt" cx="46.67" cy="575.19" r=".88"/>
<circle class="dt" cx="46.67" cy="576.41" r=".88"/>
<circle class="dt" cx="46.67" cy="577.10" r=".88"/>
<text class="pc" x="46.67" y="629.2">40%</text>
<rect x="54.04" y="580.00" width="8.95" height="43.60" fill="#ff4b2f"/>
<line class="eb" x1="58.52" x2="58.52" y1="578.05" y2="581.20"/>
<circle class="dt" cx="58.52" cy="577.50" r=".88"/>
<circle class="dt" cx="58.52" cy="578.64" r=".88"/>
<circle class="dt" cx="58.52" cy="579.32" r=".88"/>
<circle class="dt" cx="58.52" cy="580.55" r=".88"/>
<circle class="dt" cx="58.52" cy="581.50" r=".88"/>
<text class="pc" x="58.52" y="629.2">10%</text>
<text class="gl" transform="translate(49.3,633.7) rotate(-45)">TANGERINE</text>
<rect x="74.79" y="587.40" width="8.95" height="36.20" fill="#ff573f"/>
<line class="eb" x1="79.26" x2="79.26" y1="585.84" y2="588.60"/>
<circle class="dt" cx="79.26" cy="585.40" r=".88"/>
<circle class="dt" cx="79.26" cy="586.01" r=".88"/>
<circle class="dt" cx="79.26" cy="586.93" r=".88"/>
<circle class="dt" cx="79.26" cy="588.34" r=".88"/>
<circle class="dt" cx="79.26" cy="588.90" r=".88"/>
<text class="pc" x="79.26" y="629.2">100%</text>
<rect x="86.64" y="591.60" width="8.95" height="32.00" fill="#ff573f"/>
<line class="eb" x1="91.11" x2="91.11" y1="589.65" y2="593.60"/>
<circle class="dt" cx="91.11" cy="589.10" r=".88"/>
<circle class="dt" cx="91.11" cy="590.80" r=".88"/>
<circle class="dt" cx="91.11" cy="592.15" r=".88"/>
<circle class="dt" cx="91.11" cy="592.79" r=".88"/>
<circle class="dt" cx="91.11" cy="594.10" r=".88"/>
<text class="pc" x="91.11" y="629.2">40%</text>
<rect x="98.49" y="599.00" width="8.95" height="24.60" fill="#ff573f"/>
<line class="eb" x1="102.96" x2="102.96" y1="596.66" y2="600.60"/>
<circle class="dt" cx="102.96" cy="596.00" r=".88"/>
<circle class="dt" cx="102.96" cy="596.80" r=".88"/>
<circle class="dt" cx="102.96" cy="598.33" r=".88"/>
<circle class="dt" cx="102.96" cy="599.30" r=".88"/>
<circle class="dt" cx="102.96" cy="601.00" r=".88"/>
<text class="pc" x="102.96" y="629.2">10%</text>
<text class="gl" transform="translate(93.7,633.7) rotate(-45)">CT-Clip</text>
<rect x="119.23" y="570.80" width="8.95" height="52.80" fill="#ff624c"/>
<line class="eb" x1="123.70" x2="123.70" y1="570.02" y2="571.60"/>
<circle class="dt" cx="123.70" cy="569.80" r=".88"/>
<circle class="dt" cx="123.70" cy="570.33" r=".88"/>
<circle class="dt" cx="123.70" cy="570.97" r=".88"/>
<circle class="dt" cx="123.70" cy="571.41" r=".88"/>
<circle class="dt" cx="123.70" cy="571.80" r=".88"/>
<text class="pc" x="123.70" y="629.2">100%</text>
<rect x="131.08" y="572.50" width="8.95" height="51.10" fill="#ff624c"/>
<line class="eb" x1="135.56" x2="135.56" y1="571.56" y2="573.46"/>
<circle class="dt" cx="135.56" cy="571.30" r=".88"/>
<circle class="dt" cx="135.56" cy="571.91" r=".88"/>
<circle class="dt" cx="135.56" cy="572.43" r=".88"/>
<circle class="dt" cx="135.56" cy="573.01" r=".88"/>
<circle class="dt" cx="135.56" cy="573.70" r=".88"/>
<text class="pc" x="135.56" y="629.2">40%</text>
<rect x="142.93" y="579.20" width="8.95" height="44.40" fill="#ff624c"/>
<line class="eb" x1="147.41" x2="147.41" y1="576.86" y2="582.00"/>
<circle class="dt" cx="147.41" cy="576.20" r=".88"/>
<circle class="dt" cx="147.41" cy="578.49" r=".88"/>
<circle class="dt" cx="147.41" cy="578.91" r=".88"/>
<circle class="dt" cx="147.41" cy="581.08" r=".88"/>
<circle class="dt" cx="147.41" cy="582.70" r=".88"/>
<text class="pc" x="147.41" y="629.2">10%</text>
<text class="gl" transform="translate(138.2,633.7) rotate(-45)">CT-Foundation-Gemini</text>
<rect x="163.67" y="585.10" width="8.95" height="38.50" fill="#ff7564"/>
<line class="eb" x1="168.15" x2="168.15" y1="582.76" y2="587.90"/>
<circle class="dt" cx="168.15" cy="582.10" r=".88"/>
<circle class="dt" cx="168.15" cy="583.32" r=".88"/>
<circle class="dt" cx="168.15" cy="585.02" r=".88"/>
<circle class="dt" cx="168.15" cy="586.62" r=".88"/>
<circle class="dt" cx="168.15" cy="588.60" r=".88"/>
<text class="pc" x="168.15" y="629.2">100%</text>
<rect x="175.53" y="588.20" width="8.95" height="35.40" fill="#ff7564"/>
<line class="eb" x1="180.00" x2="180.00" y1="586.25" y2="591.00"/>
<circle class="dt" cx="180.00" cy="585.70" r=".88"/>
<circle class="dt" cx="180.00" cy="587.80" r=".88"/>
<circle class="dt" cx="180.00" cy="589.16" r=".88"/>
<circle class="dt" cx="180.00" cy="590.69" r=".88"/>
<circle class="dt" cx="180.00" cy="591.70" r=".88"/>
<text class="pc" x="180.00" y="629.2">40%</text>
<rect x="187.38" y="590.10" width="8.95" height="33.50" fill="#ff7564"/>
<line class="eb" x1="191.85" x2="191.85" y1="588.54" y2="591.70"/>
<circle class="dt" cx="191.85" cy="588.10" r=".88"/>
<circle class="dt" cx="191.85" cy="589.28" r=".88"/>
<circle class="dt" cx="191.85" cy="590.45" r=".88"/>
<circle class="dt" cx="191.85" cy="591.08" r=".88"/>
<circle class="dt" cx="191.85" cy="592.10" r=".88"/>
<text class="pc" x="191.85" y="629.2">10%</text>
<text class="gl" transform="translate(182.6,633.7) rotate(-45)">ViT</text>
<rect x="208.12" y="589.10" width="8.95" height="34.50" fill="#ff8779"/>
<line class="eb" x1="212.59" x2="212.59" y1="586.37" y2="592.30"/>
<circle class="dt" cx="212.59" cy="585.60" r=".88"/>
<circle class="dt" cx="212.59" cy="587.30" r=".88"/>
<circle class="dt" cx="212.59" cy="590.05" r=".88"/>
<circle class="dt" cx="212.59" cy="591.76" r=".88"/>
<circle class="dt" cx="212.59" cy="593.10" r=".88"/>
<text class="pc" x="212.59" y="629.2">100%</text>
<rect x="219.97" y="595.60" width="8.95" height="28.00" fill="#ff8779"/>
<line class="eb" x1="224.44" x2="224.44" y1="592.09" y2="600.80"/>
<circle class="dt" cx="224.44" cy="591.10" r=".88"/>
<circle class="dt" cx="224.44" cy="593.24" r=".88"/>
<circle class="dt" cx="224.44" cy="595.65" r=".88"/>
<circle class="dt" cx="224.44" cy="598.51" r=".88"/>
<circle class="dt" cx="224.44" cy="602.10" r=".88"/>
<text class="pc" x="224.44" y="629.2">40%</text>
<rect x="231.82" y="603.20" width="8.95" height="20.40" fill="#ff8779"/>
<line class="eb" x1="236.30" x2="236.30" y1="599.69" y2="606.00"/>
<circle class="dt" cx="236.30" cy="598.70" r=".88"/>
<circle class="dt" cx="236.30" cy="601.48" r=".88"/>
<circle class="dt" cx="236.30" cy="603.09" r=".88"/>
<circle class="dt" cx="236.30" cy="604.96" r=".88"/>
<circle class="dt" cx="236.30" cy="606.70" r=".88"/>
<text class="pc" x="236.30" y="629.2">10%</text>
<text class="gl" transform="translate(227.0,633.7) rotate(-45)">Med3D-ResNet</text>
<rect x="252.56" y="593.70" width="8.95" height="29.90" fill="#ff978c"/>
<line class="eb" x1="257.04" x2="257.04" y1="589.02" y2="596.90"/>
<circle class="dt" cx="257.04" cy="587.70" r=".88"/>
<circle class="dt" cx="257.04" cy="590.31" r=".88"/>
<circle class="dt" cx="257.04" cy="591.69" r=".88"/>
<circle class="dt" cx="257.04" cy="595.82" r=".88"/>
<circle class="dt" cx="257.04" cy="597.70" r=".88"/>
<text class="pc" x="257.04" y="629.2">100%</text>
<rect x="264.41" y="599.00" width="8.95" height="24.60" fill="#ff978c"/>
<line class="eb" x1="268.89" x2="268.89" y1="596.66" y2="601.40"/>
<circle class="dt" cx="268.89" cy="596.00" r=".88"/>
<circle class="dt" cx="268.89" cy="597.69" r=".88"/>
<circle class="dt" cx="268.89" cy="598.74" r=".88"/>
<circle class="dt" cx="268.89" cy="600.01" r=".88"/>
<circle class="dt" cx="268.89" cy="602.00" r=".88"/>
<text class="pc" x="268.89" y="629.2">40%</text>
<rect x="276.27" y="601.10" width="8.95" height="22.50" fill="#ff978c"/>
<line class="eb" x1="280.74" x2="280.74" y1="597.20" y2="604.70"/>
<circle class="dt" cx="280.74" cy="596.10" r=".88"/>
<circle class="dt" cx="280.74" cy="598.89" r=".88"/>
<circle class="dt" cx="280.74" cy="600.04" r=".88"/>
<circle class="dt" cx="280.74" cy="602.33" r=".88"/>
<circle class="dt" cx="280.74" cy="605.60" r=".88"/>
<text class="pc" x="280.74" y="629.2">10%</text>
<text class="gl" transform="translate(271.5,633.7) rotate(-45)">CT-Cancer-Foundation-Full</text>
<rect x="297.01" y="590.80" width="8.95" height="32.80" fill="#ffa69d"/>
<line class="eb" x1="301.48" x2="301.48" y1="588.46" y2="593.60"/>
<circle class="dt" cx="301.48" cy="587.80" r=".88"/>
<circle class="dt" cx="301.48" cy="589.26" r=".88"/>
<circle class="dt" cx="301.48" cy="590.65" r=".88"/>
<circle class="dt" cx="301.48" cy="592.82" r=".88"/>
<circle class="dt" cx="301.48" cy="594.30" r=".88"/>
<text class="pc" x="301.48" y="629.2">100%</text>
<rect x="308.86" y="600.00" width="8.95" height="23.60" fill="#ffa69d"/>
<line class="eb" x1="313.33" x2="313.33" y1="592.59" y2="606.00"/>
<circle class="dt" cx="313.33" cy="590.50" r=".88"/>
<circle class="dt" cx="313.33" cy="594.60" r=".88"/>
<circle class="dt" cx="313.33" cy="600.72" r=".88"/>
<circle class="dt" cx="313.33" cy="603.79" r=".88"/>
<circle class="dt" cx="313.33" cy="607.50" r=".88"/>
<text class="pc" x="313.33" y="629.2">40%</text>
<rect x="320.71" y="603.20" width="8.95" height="20.40" fill="#ffa69d"/>
<line class="eb" x1="325.19" x2="325.19" y1="601.64" y2="604.80"/>
<circle class="dt" cx="325.19" cy="601.20" r=".88"/>
<circle class="dt" cx="325.19" cy="601.97" r=".88"/>
<circle class="dt" cx="325.19" cy="602.98" r=".88"/>
<circle class="dt" cx="325.19" cy="604.61" r=".88"/>
<circle class="dt" cx="325.19" cy="605.20" r=".88"/>
<text class="pc" x="325.19" y="629.2">10%</text>
<text class="gl" transform="translate(315.9,633.7) rotate(-45)">ResNet</text>
<line x1="46.7" x2="135.6" y1="561.8" y2="561.8" stroke="#ababab" stroke-width="1.3"/>
<text class="pv" x="101.8" y="561.45"><tspan font-style="italic">P</tspan> = .004</text>
<line x1="58.5" x2="147.4" y1="568.6" y2="568.6" stroke="#858585" stroke-width=".8" stroke-dasharray=".6 1.1"/>
<text class="pv" x="101.8" y="568.15"><tspan font-style="italic">P</tspan> = 1.000</text>
</g>
<g id="c7">
<text class="ti" x="365.4" y="530.8">Cancer-RadChest</text>
<g class="gm">
<line x1="365.5" x2="685.0" y1="617.10" y2="617.10"/>
<line x1="365.5" x2="685.0" y1="604.10" y2="604.10"/>
<line x1="365.5" x2="685.0" y1="591.10" y2="591.10"/>
<line x1="365.5" x2="685.0" y1="578.10" y2="578.10"/>
<line x1="365.5" x2="685.0" y1="565.10" y2="565.10"/>
<line x1="365.5" x2="685.0" y1="552.10" y2="552.10"/>
<line x1="365.5" x2="685.0" y1="539.10" y2="539.10"/>
</g><g class="gr">
<line x1="365.5" x2="685.0" y1="623.60" y2="623.60"/>
<line x1="365.5" x2="685.0" y1="610.60" y2="610.60"/>
<line x1="365.5" x2="685.0" y1="597.60" y2="597.60"/>
<line x1="365.5" x2="685.0" y1="584.60" y2="584.60"/>
<line x1="365.5" x2="685.0" y1="571.60" y2="571.60"/>
<line x1="365.5" x2="685.0" y1="558.60" y2="558.60"/>
<line x1="365.5" x2="685.0" y1="545.60" y2="545.60"/>
</g>
<text class="tk" x="363.1" y="625.6">0.35</text>
<text class="tk" x="363.1" y="612.6">0.45</text>
<text class="tk" x="363.1" y="599.6">0.55</text>
<text class="tk" x="363.1" y="586.6">0.65</text>
<text class="tk" x="363.1" y="573.6">0.75</text>
<text class="tk" x="363.1" y="560.6">0.85</text>
<text class="tk" x="363.1" y="547.6">0.95</text>
<text class="yl" transform="translate(349.1,581.0) rotate(-90)">AUROC</text>
<rect x="375.84" y="560.90" width="8.95" height="62.70" fill="#ff4b2f"/>
<line class="eb" x1="380.31" x2="380.31" y1="558.95" y2="562.10"/>
<circle class="dt" cx="380.31" cy="558.40" r=".88"/>
<circle class="dt" cx="380.31" cy="558.98" r=".88"/>
<circle class="dt" cx="380.31" cy="560.40" r=".88"/>
<circle class="dt" cx="380.31" cy="561.55" r=".88"/>
<circle class="dt" cx="380.31" cy="562.40" r=".88"/>
<text class="pc" x="380.31" y="629.2">100%</text>
<rect x="387.69" y="566.60" width="8.95" height="57.00" fill="#ff4b2f"/>
<line class="eb" x1="392.17" x2="392.17" y1="563.87" y2="569.40"/>
<circle class="dt" cx="392.17" cy="563.10" r=".88"/>
<circle class="dt" cx="392.17" cy="565.11" r=".88"/>
<circle class="dt" cx="392.17" cy="567.25" r=".88"/>
<circle class="dt" cx="392.17" cy="567.93" r=".88"/>
<circle class="dt" cx="392.17" cy="570.10" r=".88"/>
<text class="pc" x="392.17" y="629.2">40%</text>
<rect x="399.54" y="573.50" width="8.95" height="50.10" fill="#ff4b2f"/>
<line class="eb" x1="404.02" x2="404.02" y1="570.77" y2="575.50"/>
<circle class="dt" cx="404.02" cy="570.00" r=".88"/>
<circle class="dt" cx="404.02" cy="571.40" r=".88"/>
<circle class="dt" cx="404.02" cy="573.24" r=".88"/>
<circle class="dt" cx="404.02" cy="574.10" r=".88"/>
<circle class="dt" cx="404.02" cy="576.00" r=".88"/>
<text class="pc" x="404.02" y="629.2">10%</text>
<text class="gl" transform="translate(394.8,633.7) rotate(-45)">TANGERINE</text>
<rect x="420.29" y="594.10" width="8.95" height="29.50" fill="#ff573f"/>
<line class="eb" x1="424.76" x2="424.76" y1="591.37" y2="596.50"/>
<circle class="dt" cx="424.76" cy="590.60" r=".88"/>
<circle class="dt" cx="424.76" cy="592.23" r=".88"/>
<circle class="dt" cx="424.76" cy="593.43" r=".88"/>
<circle class="dt" cx="424.76" cy="596.15" r=".88"/>
<circle class="dt" cx="424.76" cy="597.10" r=".88"/>
<text class="pc" x="424.76" y="629.2">100%</text>
<rect x="432.14" y="597.90" width="8.95" height="25.70" fill="#ff573f"/>
<line class="eb" x1="436.61" x2="436.61" y1="595.95" y2="599.90"/>
<circle class="dt" cx="436.61" cy="595.40" r=".88"/>
<circle class="dt" cx="436.61" cy="596.35" r=".88"/>
<circle class="dt" cx="436.61" cy="597.59" r=".88"/>
<circle class="dt" cx="436.61" cy="599.44" r=".88"/>
<circle class="dt" cx="436.61" cy="600.40" r=".88"/>
<text class="pc" x="436.61" y="629.2">40%</text>
<rect x="443.99" y="601.10" width="8.95" height="22.50" fill="#ff573f"/>
<line class="eb" x1="448.46" x2="448.46" y1="599.15" y2="604.30"/>
<circle class="dt" cx="448.46" cy="598.60" r=".88"/>
<circle class="dt" cx="448.46" cy="600.22" r=".88"/>
<circle class="dt" cx="448.46" cy="601.40" r=".88"/>
<circle class="dt" cx="448.46" cy="603.08" r=".88"/>
<circle class="dt" cx="448.46" cy="605.10" r=".88"/>
<text class="pc" x="448.46" y="629.2">10%</text>
<text class="gl" transform="translate(439.2,633.7) rotate(-45)">CT-Clip</text>
<rect x="464.73" y="570.00" width="8.95" height="53.60" fill="#ff624c"/>
<line class="eb" x1="469.20" x2="469.20" y1="568.83" y2="571.20"/>
<circle class="dt" cx="469.20" cy="568.50" r=".88"/>
<circle class="dt" cx="469.20" cy="569.55" r=".88"/>
<circle class="dt" cx="469.20" cy="569.77" r=".88"/>
<circle class="dt" cx="469.20" cy="570.68" r=".88"/>
<circle class="dt" cx="469.20" cy="571.50" r=".88"/>
<text class="pc" x="469.20" y="629.2">100%</text>
<rect x="476.58" y="572.10" width="8.95" height="51.50" fill="#ff624c"/>
<line class="eb" x1="481.06" x2="481.06" y1="569.76" y2="575.30"/>
<circle class="dt" cx="481.06" cy="569.10" r=".88"/>
<circle class="dt" cx="481.06" cy="570.30" r=".88"/>
<circle class="dt" cx="481.06" cy="571.91" r=".88"/>
<circle class="dt" cx="481.06" cy="573.67" r=".88"/>
<circle class="dt" cx="481.06" cy="576.10" r=".88"/>
<text class="pc" x="481.06" y="629.2">40%</text>
<rect x="488.43" y="586.40" width="8.95" height="37.20" fill="#ff624c"/>
<line class="eb" x1="492.91" x2="492.91" y1="582.50" y2="592.80"/>
<circle class="dt" cx="492.91" cy="581.40" r=".88"/>
<circle class="dt" cx="492.91" cy="585.75" r=".88"/>
<circle class="dt" cx="492.91" cy="588.57" r=".88"/>
<circle class="dt" cx="492.91" cy="592.57" r=".88"/>
<circle class="dt" cx="492.91" cy="594.40" r=".88"/>
<text class="pc" x="492.91" y="629.2">10%</text>
<text class="gl" transform="translate(483.7,633.7) rotate(-45)">CT-Foundation-Gemini</text>
<rect x="509.17" y="587.00" width="8.95" height="36.60" fill="#ff7564"/>
<line class="eb" x1="513.65" x2="513.65" y1="581.93" y2="594.20"/>
<circle class="dt" cx="513.65" cy="580.50" r=".88"/>
<circle class="dt" cx="513.65" cy="583.30" r=".88"/>
<circle class="dt" cx="513.65" cy="589.74" r=".88"/>
<circle class="dt" cx="513.65" cy="592.96" r=".88"/>
<circle class="dt" cx="513.65" cy="596.00" r=".88"/>
<text class="pc" x="513.65" y="629.2">100%</text>
<rect x="521.03" y="590.80" width="8.95" height="32.80" fill="#ff7564"/>
<line class="eb" x1="525.50" x2="525.50" y1="588.07" y2="594.40"/>
<circle class="dt" cx="525.50" cy="587.30" r=".88"/>
<circle class="dt" cx="525.50" cy="589.09" r=".88"/>
<circle class="dt" cx="525.50" cy="591.08" r=".88"/>
<circle class="dt" cx="525.50" cy="593.00" r=".88"/>
<circle class="dt" cx="525.50" cy="595.30" r=".88"/>
<text class="pc" x="525.50" y="629.2">40%</text>
<rect x="532.88" y="594.40" width="8.95" height="29.20" fill="#ff7564"/>
<line class="eb" x1="537.35" x2="537.35" y1="590.89" y2="600.00"/>
<circle class="dt" cx="537.35" cy="589.90" r=".88"/>
<circle class="dt" cx="537.35" cy="592.22" r=".88"/>
<circle class="dt" cx="537.35" cy="595.27" r=".88"/>
<circle class="dt" cx="537.35" cy="599.68" r=".88"/>
<circle class="dt" cx="537.35" cy="601.40" r=".88"/>
<text class="pc" x="537.35" y="629.2">10%</text>
<text class="gl" transform="translate(528.1,633.7) rotate(-45)">ViT</text>
<rect x="553.62" y="598.10" width="8.95" height="25.50" fill="#ff8779"/>
<line class="eb" x1="558.09" x2="558.09" y1="593.03" y2="602.50"/>
<circle class="dt" cx="558.09" cy="591.60" r=".88"/>
<circle class="dt" cx="558.09" cy="593.83" r=".88"/>
<circle class="dt" cx="558.09" cy="597.22" r=".88"/>
<circle class="dt" cx="558.09" cy="601.45" r=".88"/>
<circle class="dt" cx="558.09" cy="603.60" r=".88"/>
<text class="pc" x="558.09" y="629.2">100%</text>
<rect x="565.47" y="596.90" width="8.95" height="26.70" fill="#ff8779"/>
<line class="eb" x1="569.94" x2="569.94" y1="591.83" y2="601.70"/>
<circle class="dt" cx="569.94" cy="590.40" r=".88"/>
<circle class="dt" cx="569.94" cy="592.29" r=".88"/>
<circle class="dt" cx="569.94" cy="596.58" r=".88"/>
<circle class="dt" cx="569.94" cy="599.42" r=".88"/>
<circle class="dt" cx="569.94" cy="602.90" r=".88"/>
<text class="pc" x="569.94" y="629.2">40%</text>
<rect x="577.32" y="607.20" width="8.95" height="16.40" fill="#ff8779"/>
<line class="eb" x1="581.80" x2="581.80" y1="602.13" y2="610.40"/>
<circle class="dt" cx="581.80" cy="600.70" r=".88"/>
<circle class="dt" cx="581.80" cy="603.01" r=".88"/>
<circle class="dt" cx="581.80" cy="606.87" r=".88"/>
<circle class="dt" cx="581.80" cy="607.49" r=".88"/>
<circle class="dt" cx="581.80" cy="611.20" r=".88"/>
<text class="pc" x="581.80" y="629.2">10%</text>
<text class="gl" transform="translate(572.5,633.7) rotate(-45)">Med3D-ResNet</text>
<rect x="598.06" y="603.60" width="8.95" height="20.00" fill="#ff978c"/>
<line class="eb" x1="602.54" x2="602.54" y1="596.19" y2="609.20"/>
<circle class="dt" cx="602.54" cy="594.10" r=".88"/>
<circle class="dt" cx="602.54" cy="599.19" r=".88"/>
<circle class="dt" cx="602.54" cy="600.68" r=".88"/>
<circle class="dt" cx="602.54" cy="604.79" r=".88"/>
<circle class="dt" cx="602.54" cy="610.60" r=".88"/>
<text class="pc" x="602.54" y="629.2">100%</text>
<rect x="609.91" y="599.80" width="8.95" height="23.80" fill="#ff978c"/>
<line class="eb" x1="614.39" x2="614.39" y1="594.34" y2="604.60"/>
<circle class="dt" cx="614.39" cy="592.80" r=".88"/>
<circle class="dt" cx="614.39" cy="595.36" r=".88"/>
<circle class="dt" cx="614.39" cy="600.01" r=".88"/>
<circle class="dt" cx="614.39" cy="603.69" r=".88"/>
<circle class="dt" cx="614.39" cy="605.80" r=".88"/>
<text class="pc" x="614.39" y="629.2">40%</text>
<rect x="621.77" y="605.90" width="8.95" height="17.70" fill="#ff978c"/>
<line class="eb" x1="626.24" x2="626.24" y1="601.61" y2="611.10"/>
<circle class="dt" cx="626.24" cy="600.40" r=".88"/>
<circle class="dt" cx="626.24" cy="604.61" r=".88"/>
<circle class="dt" cx="626.24" cy="606.71" r=".88"/>
<circle class="dt" cx="626.24" cy="608.77" r=".88"/>
<circle class="dt" cx="626.24" cy="612.40" r=".88"/>
<text class="pc" x="626.24" y="629.2">10%</text>
<text class="gl" transform="translate(617.0,633.7) rotate(-45)">CT-Cancer-Foundation-Full</text>
<rect x="642.51" y="594.10" width="8.95" height="29.50" fill="#ffa69d"/>
<line class="eb" x1="646.98" x2="646.98" y1="589.42" y2="598.50"/>
<circle class="dt" cx="646.98" cy="588.10" r=".88"/>
<circle class="dt" cx="646.98" cy="590.41" r=".88"/>
<circle class="dt" cx="646.98" cy="592.59" r=".88"/>
<circle class="dt" cx="646.98" cy="597.37" r=".88"/>
<circle class="dt" cx="646.98" cy="599.60" r=".88"/>
<text class="pc" x="646.98" y="629.2">100%</text>
<rect x="654.36" y="598.80" width="8.95" height="24.80" fill="#ffa69d"/>
<line class="eb" x1="658.83" x2="658.83" y1="592.95" y2="604.40"/>
<circle class="dt" cx="658.83" cy="591.30" r=".88"/>
<circle class="dt" cx="658.83" cy="596.34" r=".88"/>
<circle class="dt" cx="658.83" cy="597.03" r=".88"/>
<circle class="dt" cx="658.83" cy="601.33" r=".88"/>
<circle class="dt" cx="658.83" cy="605.80" r=".88"/>
<text class="pc" x="658.83" y="629.2">40%</text>
<rect x="666.21" y="601.30" width="8.95" height="22.30" fill="#ffa69d"/>
<line class="eb" x1="670.69" x2="670.69" y1="596.23" y2="606.90"/>
<circle class="dt" cx="670.69" cy="594.80" r=".88"/>
<circle class="dt" cx="670.69" cy="599.52" r=".88"/>
<circle class="dt" cx="670.69" cy="601.21" r=".88"/>
<circle class="dt" cx="670.69" cy="604.19" r=".88"/>
<circle class="dt" cx="670.69" cy="608.30" r=".88"/>
<text class="pc" x="670.69" y="629.2">10%</text>
<text class="gl" transform="translate(661.4,633.7) rotate(-45)">ResNet</text>
<line x1="392.2" x2="481.1" y1="551.4" y2="551.4" stroke="#555" stroke-width="0.75"/>
<text class="pv" x="447.0" y="551.05"><tspan font-style="italic">P</tspan> = .012</text>
<line x1="404.0" x2="491.6" y1="558.5" y2="558.5" stroke="#555" stroke-width=".8" stroke-dasharray=".6 1.1"/>
<text class="pv" x="447.0" y="558.05"><tspan font-style="italic">P</tspan> = .022</text>
</g>
</svg></body></html>
